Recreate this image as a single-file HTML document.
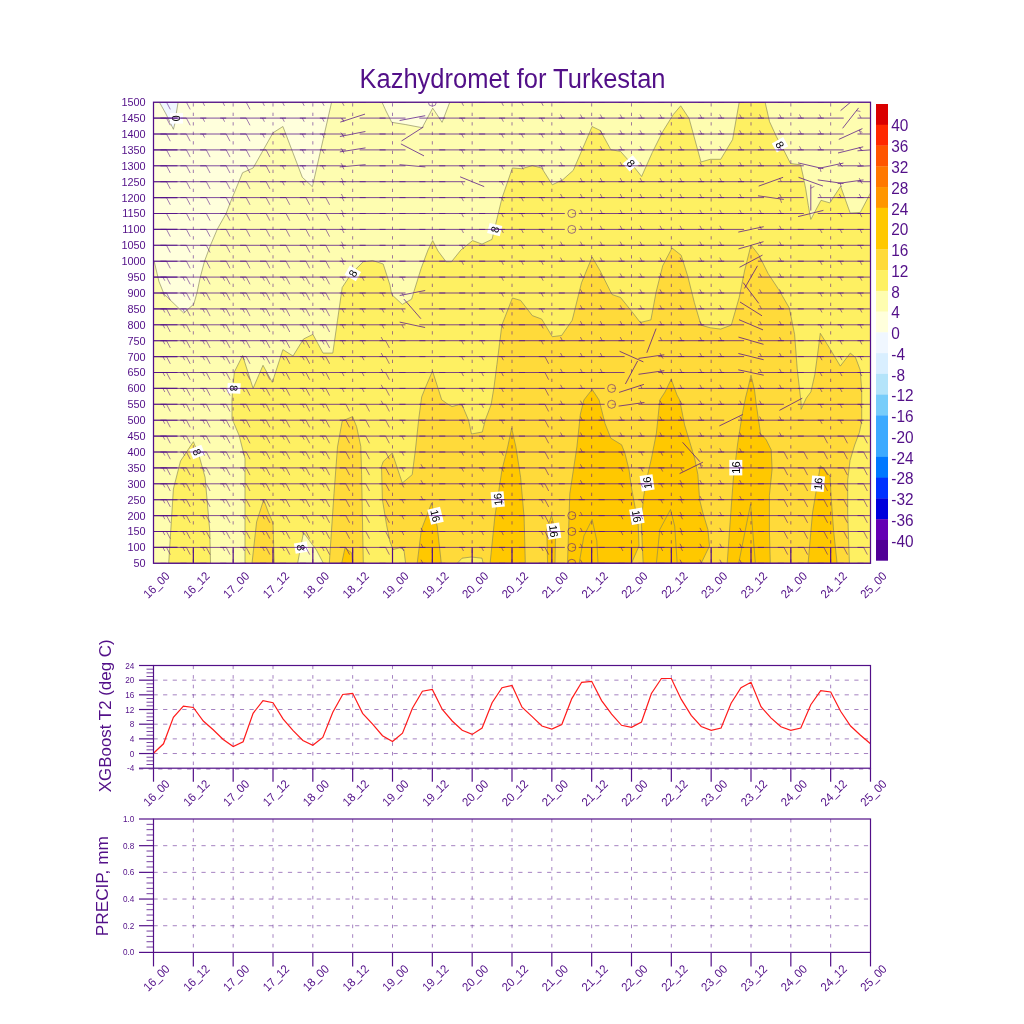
<!DOCTYPE html><html><head><meta charset="utf-8"><title>Kazhydromet for Turkestan</title>
<style>html,body{margin:0;padding:0;background:#fff;}svg{display:block;will-change:transform;}text{font-family:'Liberation Sans', Arial, Helvetica, sans-serif;fill:#520f88;}</style></head><body>
<svg width="1024" height="1024" viewBox="0 0 1024 1024">
<rect width="1024" height="1024" fill="#fff"/>
<text transform="translate(512.50,87.60) scale(1.0,1.06)" font-size="25.5" text-anchor="middle">Kazhydromet for Turkestan</text>
<defs><clipPath id="mc"><rect x="153.5" y="102.2" width="717.0" height="461.09999999999997"/></clipPath></defs>
<g clip-path="url(#mc)">
<rect x="153.5" y="102.2" width="717.0" height="461.09999999999997" fill="#fefdb0"/>
<polygon points="153.5,102.2 331.6,102.2 312.4,186.7 302.3,177.3 282.9,126.5 273.0,132.8 253.1,168.0 242.6,172.7 231.3,200.0 226.2,213.3 217.3,229.2 210.3,245.7 204.6,261.0 200.2,277.5 197.0,292.7 193.8,304.1 183.7,313.0 164.0,294.0 158.9,281.3 154.4,262.2 153.5,262.0" fill="#ffffdc"/>
<polygon points="382.0,102.2 386.0,111.0 391.7,122.3 405.8,124.6 422.2,127.7 432.7,108.2 442.1,122.3 449.8,102.2" fill="#ffffdc"/>
<polygon points="159.4,102.2 178.1,102.2 176.5,112.0 175.5,121.0 173.4,129.3 166.0,114.0" fill="#f0f7ff"/>
<polygon points="245.0,563.3 245.0,458.6 239.0,435.2 232.0,418.7 232.0,400.0 233.0,385.0 234.4,371.9 242.6,355.5 253.1,388.3 263.0,365.3 272.3,382.4 282.9,349.6 293.0,356.0 303.5,339.0 312.9,334.4 323.0,353.1 332.8,353.1 337.5,320.3 342.2,287.5 351.5,273.4 363.3,261.7 372.6,260.5 383.2,264.0 390.0,285.2 391.7,294.5 402.3,304.4 411.6,299.2 421.0,268.7 428.0,250.0 432.7,240.6 438.0,251.0 446.0,261.7 451.5,261.7 460.9,250.0 472.6,240.6 482.0,244.1 492.0,239.4 501.9,198.4 512.4,168.0 521.8,168.7 532.3,165.6 541.7,168.0 552.3,184.8 562.8,179.7 573.3,170.3 592.1,126.5 600.3,130.5 610.8,149.7 620.5,151.4 631.1,163.3 641.6,176.5 652.2,152.7 662.7,131.6 673.3,114.5 680.7,105.8 689.1,118.5 701.0,162.0 710.2,159.3 720.7,159.3 732.6,139.5 739.2,102.2 765.1,102.2 769.5,121.6 776.5,136.8 784.1,150.8 790.5,163.5 800.6,164.8 803.2,176.2 805.7,188.9 808.3,205.4 810.8,219.4 821.0,200.3 829.8,202.9 840.6,186.3 850.2,213.0 860.3,212.4 870.5,193.0 870.5,563.3" fill="#fef062"/>
<polygon points="168.7,563.3 173.4,489.0 180.5,461.0 193.4,441.7 199.2,456.2 205.1,477.3 209.8,531.2 210.5,563.3" fill="#fef062"/>
<polygon points="297.6,563.3 303.5,532.4 309.4,540.6 316.4,550.0 323.4,563.3" fill="#fefdb0"/>
<polygon points="252.0,563.3 256.6,521.9 263.7,499.6 268.4,512.5 273.0,523.0 274.2,563.3" fill="#ffda3a"/>
<polygon points="329.3,563.3 334.0,493.7 337.5,446.9 342.2,421.1 352.5,416.6 356.6,426.6 360.8,446.5 361.6,474.7 362.4,516.3 363.3,563.3" fill="#ffda3a"/>
<polygon points="405.6,563.3 403.9,549.5 399.8,547.8 393.1,549.5 389.8,541.2 386.5,524.6 382.4,499.6 381.5,466.4 383.2,461.5 392.3,453.1 402.3,483.0 412.2,474.7 415.4,450.0 418.8,418.4 421.7,396.9 425.6,387.1 432.5,371.0 438.3,389.1 441.7,399.8 447.1,403.7 452.0,406.6 458.8,404.7 462.2,405.2 468.6,420.3 471.5,434.0 482.3,432.0 485.2,420.3 491.1,404.7 494.0,387.1 496.9,364.6 501.9,325.0 512.4,298.0 520.6,300.4 532.3,315.6 541.7,319.1 552.3,336.7 561.6,335.5 572.2,320.3 581.5,282.8 592.1,257.0 600.3,271.1 612.0,294.5 620.5,297.5 631.1,310.6 640.3,322.5 650.9,319.9 656.1,292.2 662.7,265.8 672.0,248.0 681.2,255.3 687.8,276.4 694.4,302.7 701.0,325.1 710.2,327.8 720.7,329.1 731.3,325.1 739.2,297.5 744.5,271.1 751.0,245.0 759.0,255.3 768.2,273.7 778.7,289.5 789.3,308.0 794.6,334.4 797.2,368.6 801.1,402.9 801.1,409.3 806.3,398.1 810.9,391.9 814.8,374.7 818.0,351.3 820.3,333.3 830.5,349.7 840.3,366.1 850.3,353.1 855.5,357.5 860.2,370.0 861.7,390.3 861.7,421.6 859.4,432.5 854.7,445.0 850.0,460.6 847.7,480.0 847.7,513.0 849.4,563.3" fill="#ffda3a"/>
<polygon points="457.3,563.3 462.0,558.2 471.4,557.0 482.0,558.2 483.1,563.3" fill="#fef062"/>
<polygon points="341.7,563.3 345.0,547.8 351.6,552.8 352.5,563.3" fill="#ffc800"/>
<polygon points="417.2,563.3 421.4,529.5 431.6,503.1 437.2,526.2 441.3,563.3" fill="#ffc800"/>
<polygon points="490.1,563.3 494.8,517.2 501.9,470.3 507.7,446.9 511.7,428.1 515.9,446.9 520.6,477.3 524.1,517.2 525.3,563.3" fill="#ffc800"/>
<polygon points="547.6,563.3 546.8,530.0 551.5,515.5 555.6,531.6 555.0,563.3" fill="#ffc800"/>
<polygon points="567.5,563.3 569.8,493.7 576.9,446.9 580.4,414.0 583.9,400.0 592.1,389.4 599.1,400.0 605.0,423.4 610.8,438.2 621.6,444.8 624.9,453.1 629.0,469.7 631.5,488.0 634.9,506.2 638.2,524.5 639.0,546.0 631.5,563.3" fill="#ffc800"/>
<polygon points="643.2,563.3 642.3,546.0 641.5,524.5 643.2,499.6 646.5,479.7 651.5,458.1 656.4,433.2 659.8,400.0 665.0,392.0 671.2,379.2 677.0,395.0 679.7,400.0 684.6,424.9 689.6,441.5 694.6,458.1 697.9,474.7 699.6,499.6 702.9,512.9 707.9,529.5 709.5,546.0 701.2,563.3" fill="#ffc800"/>
<polygon points="727.2,563.3 730.8,513.0 733.4,477.9 737.8,442.7 742.2,414.6 745.7,397.0 747.5,390.0 751.0,375.2 754.5,390.0 756.2,404.1 760.6,434.0 765.9,439.2 771.2,449.8 772.1,469.1 769.4,495.5 769.4,530.6 770.3,563.3" fill="#ffc800"/>
<polygon points="808.1,563.3 812.5,513.0 816.0,492.0 820.4,465.6 830.1,476.1 831.0,495.5 833.6,530.6 837.1,563.3" fill="#ffc800"/>
<polygon points="153.5,102.2 331.6,102.2 312.4,186.7 302.3,177.3 282.9,126.5 273.0,132.8 253.1,168.0 242.6,172.7 231.3,200.0 226.2,213.3 217.3,229.2 210.3,245.7 204.6,261.0 200.2,277.5 197.0,292.7 193.8,304.1 183.7,313.0 164.0,294.0 158.9,281.3 154.4,262.2 153.5,262.0" fill="none" stroke="#85855a" stroke-width="0.7" stroke-opacity="0.9"/>
<polygon points="382.0,102.2 386.0,111.0 391.7,122.3 405.8,124.6 422.2,127.7 432.7,108.2 442.1,122.3 449.8,102.2" fill="none" stroke="#85855a" stroke-width="0.7" stroke-opacity="0.9"/>
<polygon points="159.4,102.2 178.1,102.2 176.5,112.0 175.5,121.0 173.4,129.3 166.0,114.0" fill="none" stroke="#85855a" stroke-width="0.7" stroke-opacity="0.9"/>
<polygon points="245.0,563.3 245.0,458.6 239.0,435.2 232.0,418.7 232.0,400.0 233.0,385.0 234.4,371.9 242.6,355.5 253.1,388.3 263.0,365.3 272.3,382.4 282.9,349.6 293.0,356.0 303.5,339.0 312.9,334.4 323.0,353.1 332.8,353.1 337.5,320.3 342.2,287.5 351.5,273.4 363.3,261.7 372.6,260.5 383.2,264.0 390.0,285.2 391.7,294.5 402.3,304.4 411.6,299.2 421.0,268.7 428.0,250.0 432.7,240.6 438.0,251.0 446.0,261.7 451.5,261.7 460.9,250.0 472.6,240.6 482.0,244.1 492.0,239.4 501.9,198.4 512.4,168.0 521.8,168.7 532.3,165.6 541.7,168.0 552.3,184.8 562.8,179.7 573.3,170.3 592.1,126.5 600.3,130.5 610.8,149.7 620.5,151.4 631.1,163.3 641.6,176.5 652.2,152.7 662.7,131.6 673.3,114.5 680.7,105.8 689.1,118.5 701.0,162.0 710.2,159.3 720.7,159.3 732.6,139.5 739.2,102.2 765.1,102.2 769.5,121.6 776.5,136.8 784.1,150.8 790.5,163.5 800.6,164.8 803.2,176.2 805.7,188.9 808.3,205.4 810.8,219.4 821.0,200.3 829.8,202.9 840.6,186.3 850.2,213.0 860.3,212.4 870.5,193.0 870.5,563.3" fill="none" stroke="#85855a" stroke-width="0.7" stroke-opacity="0.9"/>
<polygon points="168.7,563.3 173.4,489.0 180.5,461.0 193.4,441.7 199.2,456.2 205.1,477.3 209.8,531.2 210.5,563.3" fill="none" stroke="#85855a" stroke-width="0.7" stroke-opacity="0.9"/>
<polygon points="297.6,563.3 303.5,532.4 309.4,540.6 316.4,550.0 323.4,563.3" fill="none" stroke="#85855a" stroke-width="0.7" stroke-opacity="0.9"/>
<polygon points="252.0,563.3 256.6,521.9 263.7,499.6 268.4,512.5 273.0,523.0 274.2,563.3" fill="none" stroke="#85855a" stroke-width="0.7" stroke-opacity="0.9"/>
<polygon points="329.3,563.3 334.0,493.7 337.5,446.9 342.2,421.1 352.5,416.6 356.6,426.6 360.8,446.5 361.6,474.7 362.4,516.3 363.3,563.3" fill="none" stroke="#85855a" stroke-width="0.7" stroke-opacity="0.9"/>
<polygon points="405.6,563.3 403.9,549.5 399.8,547.8 393.1,549.5 389.8,541.2 386.5,524.6 382.4,499.6 381.5,466.4 383.2,461.5 392.3,453.1 402.3,483.0 412.2,474.7 415.4,450.0 418.8,418.4 421.7,396.9 425.6,387.1 432.5,371.0 438.3,389.1 441.7,399.8 447.1,403.7 452.0,406.6 458.8,404.7 462.2,405.2 468.6,420.3 471.5,434.0 482.3,432.0 485.2,420.3 491.1,404.7 494.0,387.1 496.9,364.6 501.9,325.0 512.4,298.0 520.6,300.4 532.3,315.6 541.7,319.1 552.3,336.7 561.6,335.5 572.2,320.3 581.5,282.8 592.1,257.0 600.3,271.1 612.0,294.5 620.5,297.5 631.1,310.6 640.3,322.5 650.9,319.9 656.1,292.2 662.7,265.8 672.0,248.0 681.2,255.3 687.8,276.4 694.4,302.7 701.0,325.1 710.2,327.8 720.7,329.1 731.3,325.1 739.2,297.5 744.5,271.1 751.0,245.0 759.0,255.3 768.2,273.7 778.7,289.5 789.3,308.0 794.6,334.4 797.2,368.6 801.1,402.9 801.1,409.3 806.3,398.1 810.9,391.9 814.8,374.7 818.0,351.3 820.3,333.3 830.5,349.7 840.3,366.1 850.3,353.1 855.5,357.5 860.2,370.0 861.7,390.3 861.7,421.6 859.4,432.5 854.7,445.0 850.0,460.6 847.7,480.0 847.7,513.0 849.4,563.3" fill="none" stroke="#85855a" stroke-width="0.7" stroke-opacity="0.9"/>
<polygon points="457.3,563.3 462.0,558.2 471.4,557.0 482.0,558.2 483.1,563.3" fill="none" stroke="#85855a" stroke-width="0.7" stroke-opacity="0.9"/>
<polygon points="341.7,563.3 345.0,547.8 351.6,552.8 352.5,563.3" fill="none" stroke="#85855a" stroke-width="0.7" stroke-opacity="0.9"/>
<polygon points="417.2,563.3 421.4,529.5 431.6,503.1 437.2,526.2 441.3,563.3" fill="none" stroke="#85855a" stroke-width="0.7" stroke-opacity="0.9"/>
<polygon points="490.1,563.3 494.8,517.2 501.9,470.3 507.7,446.9 511.7,428.1 515.9,446.9 520.6,477.3 524.1,517.2 525.3,563.3" fill="none" stroke="#85855a" stroke-width="0.7" stroke-opacity="0.9"/>
<polygon points="547.6,563.3 546.8,530.0 551.5,515.5 555.6,531.6 555.0,563.3" fill="none" stroke="#85855a" stroke-width="0.7" stroke-opacity="0.9"/>
<polygon points="567.5,563.3 569.8,493.7 576.9,446.9 580.4,414.0 583.9,400.0 592.1,389.4 599.1,400.0 605.0,423.4 610.8,438.2 621.6,444.8 624.9,453.1 629.0,469.7 631.5,488.0 634.9,506.2 638.2,524.5 639.0,546.0 631.5,563.3" fill="none" stroke="#85855a" stroke-width="0.7" stroke-opacity="0.9"/>
<polygon points="643.2,563.3 642.3,546.0 641.5,524.5 643.2,499.6 646.5,479.7 651.5,458.1 656.4,433.2 659.8,400.0 665.0,392.0 671.2,379.2 677.0,395.0 679.7,400.0 684.6,424.9 689.6,441.5 694.6,458.1 697.9,474.7 699.6,499.6 702.9,512.9 707.9,529.5 709.5,546.0 701.2,563.3" fill="none" stroke="#85855a" stroke-width="0.7" stroke-opacity="0.9"/>
<polygon points="727.2,563.3 730.8,513.0 733.4,477.9 737.8,442.7 742.2,414.6 745.7,397.0 747.5,390.0 751.0,375.2 754.5,390.0 756.2,404.1 760.6,434.0 765.9,439.2 771.2,449.8 772.1,469.1 769.4,495.5 769.4,530.6 770.3,563.3" fill="none" stroke="#85855a" stroke-width="0.7" stroke-opacity="0.9"/>
<polygon points="808.1,563.3 812.5,513.0 816.0,492.0 820.4,465.6 830.1,476.1 831.0,495.5 833.6,530.6 837.1,563.3" fill="none" stroke="#85855a" stroke-width="0.7" stroke-opacity="0.9"/>
<polygon points="579.2,563.3 583.9,536.0 592.1,519.5 596.8,540.6 598.0,563.3" fill="none" stroke="#85855a" stroke-width="0.7" stroke-opacity="0.9"/>
<polygon points="656.4,563.3 659.8,529.5 670.5,509.5 674.7,526.1 677.2,563.3" fill="none" stroke="#85855a" stroke-width="0.7" stroke-opacity="0.9"/>
<polygon points="738.7,563.3 746.6,523.6 750.6,504.3 752.7,530.6 755.4,563.3" fill="none" stroke="#85855a" stroke-width="0.7" stroke-opacity="0.9"/>
<line x1="193.33" y1="102.2" x2="193.33" y2="563.3" stroke="#520f88" stroke-width="0.85" stroke-dasharray="3.3,6.2" stroke-dashoffset="-1" stroke-opacity="0.65"/>
<line x1="233.17" y1="102.2" x2="233.17" y2="563.3" stroke="#520f88" stroke-width="0.85" stroke-dasharray="3.3,6.2" stroke-dashoffset="-1" stroke-opacity="0.65"/>
<line x1="273.00" y1="102.2" x2="273.00" y2="563.3" stroke="#520f88" stroke-width="0.85" stroke-dasharray="3.3,6.2" stroke-dashoffset="-1" stroke-opacity="0.65"/>
<line x1="312.83" y1="102.2" x2="312.83" y2="563.3" stroke="#520f88" stroke-width="0.85" stroke-dasharray="3.3,6.2" stroke-dashoffset="-1" stroke-opacity="0.65"/>
<line x1="352.67" y1="102.2" x2="352.67" y2="563.3" stroke="#520f88" stroke-width="0.85" stroke-dasharray="3.3,6.2" stroke-dashoffset="-1" stroke-opacity="0.65"/>
<line x1="392.50" y1="102.2" x2="392.50" y2="563.3" stroke="#520f88" stroke-width="0.85" stroke-dasharray="3.3,6.2" stroke-dashoffset="-1" stroke-opacity="0.65"/>
<line x1="432.33" y1="102.2" x2="432.33" y2="563.3" stroke="#520f88" stroke-width="0.85" stroke-dasharray="3.3,6.2" stroke-dashoffset="-1" stroke-opacity="0.65"/>
<line x1="472.17" y1="102.2" x2="472.17" y2="563.3" stroke="#520f88" stroke-width="0.85" stroke-dasharray="3.3,6.2" stroke-dashoffset="-1" stroke-opacity="0.65"/>
<line x1="512.00" y1="102.2" x2="512.00" y2="563.3" stroke="#520f88" stroke-width="0.85" stroke-dasharray="3.3,6.2" stroke-dashoffset="-1" stroke-opacity="0.65"/>
<line x1="551.83" y1="102.2" x2="551.83" y2="563.3" stroke="#520f88" stroke-width="0.85" stroke-dasharray="3.3,6.2" stroke-dashoffset="-1" stroke-opacity="0.65"/>
<line x1="591.67" y1="102.2" x2="591.67" y2="563.3" stroke="#520f88" stroke-width="0.85" stroke-dasharray="3.3,6.2" stroke-dashoffset="-1" stroke-opacity="0.65"/>
<line x1="631.50" y1="102.2" x2="631.50" y2="563.3" stroke="#520f88" stroke-width="0.85" stroke-dasharray="3.3,6.2" stroke-dashoffset="-1" stroke-opacity="0.65"/>
<line x1="671.33" y1="102.2" x2="671.33" y2="563.3" stroke="#520f88" stroke-width="0.85" stroke-dasharray="3.3,6.2" stroke-dashoffset="-1" stroke-opacity="0.65"/>
<line x1="711.17" y1="102.2" x2="711.17" y2="563.3" stroke="#520f88" stroke-width="0.85" stroke-dasharray="3.3,6.2" stroke-dashoffset="-1" stroke-opacity="0.65"/>
<line x1="751.00" y1="102.2" x2="751.00" y2="563.3" stroke="#520f88" stroke-width="0.85" stroke-dasharray="3.3,6.2" stroke-dashoffset="-1" stroke-opacity="0.65"/>
<line x1="790.83" y1="102.2" x2="790.83" y2="563.3" stroke="#520f88" stroke-width="0.85" stroke-dasharray="3.3,6.2" stroke-dashoffset="-1" stroke-opacity="0.65"/>
<line x1="830.67" y1="102.2" x2="830.67" y2="563.3" stroke="#520f88" stroke-width="0.85" stroke-dasharray="3.3,6.2" stroke-dashoffset="-1" stroke-opacity="0.65"/>
<g transform="translate(176.5,118.3) rotate(90)"><rect x="-5.2" y="-6.5" width="10.5" height="13" fill="#fff"/><text x="0" y="4.1" font-size="11" text-anchor="middle" style="fill:#000">0</text></g>
<g transform="translate(234.0,388.3) rotate(92)"><rect x="-5.2" y="-6.5" width="10.5" height="13" fill="#fff"/><text x="0" y="4.1" font-size="11" text-anchor="middle" style="fill:#000">8</text></g>
<g transform="translate(197.2,452) rotate(68)"><rect x="-5.2" y="-6.5" width="10.5" height="13" fill="#fff"/><text x="0" y="4.1" font-size="11" text-anchor="middle" style="fill:#000">8</text></g>
<g transform="translate(301.2,547.5) rotate(80)"><rect x="-5.2" y="-6.5" width="10.5" height="13" fill="#fff"/><text x="0" y="4.1" font-size="11" text-anchor="middle" style="fill:#000">8</text></g>
<g transform="translate(352.8,273.4) rotate(-60)"><rect x="-5.2" y="-6.5" width="10.5" height="13" fill="#fff"/><text x="0" y="4.1" font-size="11" text-anchor="middle" style="fill:#000">8</text></g>
<g transform="translate(494.7,229.6) rotate(-76)"><rect x="-5.2" y="-6.5" width="10.5" height="13" fill="#fff"/><text x="0" y="4.1" font-size="11" text-anchor="middle" style="fill:#000">8</text></g>
<g transform="translate(631.1,163.3) rotate(50)"><rect x="-5.2" y="-6.5" width="10.5" height="13" fill="#fff"/><text x="0" y="4.1" font-size="11" text-anchor="middle" style="fill:#000">8</text></g>
<g transform="translate(780,144.8) rotate(61)"><rect x="-5.2" y="-6.5" width="10.5" height="13" fill="#fff"/><text x="0" y="4.1" font-size="11" text-anchor="middle" style="fill:#000">8</text></g>
<g transform="translate(435.6,515.8) rotate(76)"><rect x="-7.8" y="-6.5" width="15.5" height="13" fill="#fff"/><text x="0" y="4.1" font-size="11" text-anchor="middle" style="fill:#000">16</text></g>
<g transform="translate(497.7,499.4) rotate(-95)"><rect x="-7.8" y="-6.5" width="15.5" height="13" fill="#fff"/><text x="0" y="4.1" font-size="11" text-anchor="middle" style="fill:#000">16</text></g>
<g transform="translate(553.8,531.1) rotate(82)"><rect x="-7.8" y="-6.5" width="15.5" height="13" fill="#fff"/><text x="0" y="4.1" font-size="11" text-anchor="middle" style="fill:#000">16</text></g>
<g transform="translate(636.9,516.2) rotate(80)"><rect x="-7.8" y="-6.5" width="15.5" height="13" fill="#fff"/><text x="0" y="4.1" font-size="11" text-anchor="middle" style="fill:#000">16</text></g>
<g transform="translate(647.1,482.8) rotate(-98)"><rect x="-7.8" y="-6.5" width="15.5" height="13" fill="#fff"/><text x="0" y="4.1" font-size="11" text-anchor="middle" style="fill:#000">16</text></g>
<g transform="translate(735.8,467.6) rotate(-90)"><rect x="-7.8" y="-6.5" width="15.5" height="13" fill="#fff"/><text x="0" y="4.1" font-size="11" text-anchor="middle" style="fill:#000">16</text></g>
<g transform="translate(817.9,483.7) rotate(-85)"><rect x="-7.8" y="-6.5" width="15.5" height="13" fill="#fff"/><text x="0" y="4.1" font-size="11" text-anchor="middle" style="fill:#000">16</text></g>
<line x1="153.5" y1="118.10" x2="177.5" y2="118.10" stroke="#520f88" stroke-width="1.1" stroke-opacity="0.85"/>
<line x1="153.5" y1="134.00" x2="177.5" y2="134.00" stroke="#520f88" stroke-width="1.1" stroke-opacity="0.85"/>
<line x1="153.5" y1="149.90" x2="177.5" y2="149.90" stroke="#520f88" stroke-width="1.1" stroke-opacity="0.85"/>
<line x1="153.5" y1="165.80" x2="177.5" y2="165.80" stroke="#520f88" stroke-width="1.1" stroke-opacity="0.85"/>
<line x1="153.5" y1="181.70" x2="177.5" y2="181.70" stroke="#520f88" stroke-width="1.1" stroke-opacity="0.85"/>
<line x1="153.5" y1="197.60" x2="177.5" y2="197.60" stroke="#520f88" stroke-width="1.1" stroke-opacity="0.85"/>
<line x1="153.5" y1="213.50" x2="177.5" y2="213.50" stroke="#520f88" stroke-width="1.1" stroke-opacity="0.85"/>
<line x1="153.5" y1="229.40" x2="177.5" y2="229.40" stroke="#520f88" stroke-width="1.1" stroke-opacity="0.85"/>
<line x1="153.5" y1="245.30" x2="177.5" y2="245.30" stroke="#520f88" stroke-width="1.1" stroke-opacity="0.85"/>
<line x1="153.5" y1="261.20" x2="177.5" y2="261.20" stroke="#520f88" stroke-width="1.1" stroke-opacity="0.85"/>
<line x1="153.5" y1="277.10" x2="177.5" y2="277.10" stroke="#520f88" stroke-width="1.1" stroke-opacity="0.85"/>
<line x1="153.5" y1="293.00" x2="177.5" y2="293.00" stroke="#520f88" stroke-width="1.1" stroke-opacity="0.85"/>
<line x1="153.5" y1="308.90" x2="177.5" y2="308.90" stroke="#520f88" stroke-width="1.1" stroke-opacity="0.85"/>
<line x1="153.5" y1="324.80" x2="177.5" y2="324.80" stroke="#520f88" stroke-width="1.1" stroke-opacity="0.85"/>
<line x1="153.5" y1="340.70" x2="177.5" y2="340.70" stroke="#520f88" stroke-width="1.1" stroke-opacity="0.85"/>
<line x1="153.5" y1="356.60" x2="177.5" y2="356.60" stroke="#520f88" stroke-width="1.1" stroke-opacity="0.85"/>
<line x1="153.5" y1="372.50" x2="177.5" y2="372.50" stroke="#520f88" stroke-width="1.1" stroke-opacity="0.85"/>
<line x1="153.5" y1="388.40" x2="177.5" y2="388.40" stroke="#520f88" stroke-width="1.1" stroke-opacity="0.85"/>
<line x1="153.5" y1="404.30" x2="177.5" y2="404.30" stroke="#520f88" stroke-width="1.1" stroke-opacity="0.85"/>
<line x1="153.5" y1="420.20" x2="177.5" y2="420.20" stroke="#520f88" stroke-width="1.1" stroke-opacity="0.85"/>
<line x1="153.5" y1="436.10" x2="177.5" y2="436.10" stroke="#520f88" stroke-width="1.1" stroke-opacity="0.85"/>
<line x1="153.5" y1="452.00" x2="177.5" y2="452.00" stroke="#520f88" stroke-width="1.1" stroke-opacity="0.85"/>
<line x1="153.5" y1="467.90" x2="177.5" y2="467.90" stroke="#520f88" stroke-width="1.1" stroke-opacity="0.85"/>
<line x1="153.5" y1="483.80" x2="177.5" y2="483.80" stroke="#520f88" stroke-width="1.1" stroke-opacity="0.85"/>
<line x1="153.5" y1="499.70" x2="177.5" y2="499.70" stroke="#520f88" stroke-width="1.1" stroke-opacity="0.85"/>
<line x1="153.5" y1="515.60" x2="177.5" y2="515.60" stroke="#520f88" stroke-width="1.1" stroke-opacity="0.85"/>
<line x1="153.5" y1="531.50" x2="177.5" y2="531.50" stroke="#520f88" stroke-width="1.1" stroke-opacity="0.85"/>
<line x1="153.5" y1="547.40" x2="177.5" y2="547.40" stroke="#520f88" stroke-width="1.1" stroke-opacity="0.85"/>
<path d="M140.5,102.2L166.5,102.2M180.3,102.2L206.3,102.2M220.2,102.2L246.2,102.2M260.0,102.2L286.0,102.2M299.8,102.2L325.8,102.2M365.7,102.2L339.7,102.2M405.5,102.2L379.5,102.2M459.2,102.2L485.2,102.2M499.0,102.2L525.0,102.2M538.8,102.2L564.8,102.2M604.7,102.2L578.7,102.2M644.5,102.2L618.5,102.2M684.3,102.2L658.3,102.2M724.2,102.2L698.2,102.2M764.0,102.2L738.0,102.2M803.8,102.2L777.8,102.2M843.7,102.2L817.7,102.2M883.5,102.2L857.5,102.2M140.5,118.1L166.5,118.1M180.3,118.1L206.3,118.1M220.2,118.1L246.2,118.1M260.0,118.1L286.0,118.1M299.8,118.1L325.8,118.1M365.0,114.1L340.3,122.1M405.5,118.1L379.5,118.1M445.3,118.1L419.3,118.1M459.2,118.1L485.2,118.1M499.0,118.1L525.0,118.1M538.8,118.1L564.8,118.1M604.7,118.1L578.7,118.1M644.5,118.1L618.5,118.1M684.3,118.1L658.3,118.1M724.2,118.1L698.2,118.1M764.0,118.1L738.0,118.1M803.8,118.1L777.8,118.1M843.7,118.1L817.7,118.1M883.5,118.1L857.5,118.1M140.5,134.0L166.5,134.0M180.3,134.0L206.3,134.0M220.2,134.0L246.2,134.0M260.0,134.0L286.0,134.0M299.8,134.0L325.8,134.0M365.4,131.5L339.9,136.5M405.5,134.0L379.5,134.0M445.3,134.0L419.3,134.0M459.2,134.0L485.2,134.0M499.0,134.0L525.0,134.0M538.8,134.0L564.8,134.0M604.7,134.0L578.7,134.0M644.5,134.0L618.5,134.0M684.3,134.0L658.3,134.0M724.2,134.0L698.2,134.0M764.0,134.0L738.0,134.0M803.8,134.0L777.8,134.0M843.7,134.0L817.7,134.0M883.5,134.0L857.5,134.0M140.5,149.9L166.5,149.9M180.3,149.9L206.3,149.9M220.2,149.9L246.2,149.9M260.0,149.9L286.0,149.9M299.8,149.9L325.8,149.9M365.5,147.9L339.8,151.9M405.5,149.9L379.5,149.9M445.3,149.9L419.3,149.9M459.2,149.9L485.2,149.9M499.0,149.9L525.0,149.9M538.8,149.9L564.8,149.9M604.7,149.9L578.7,149.9M644.5,149.9L618.5,149.9M684.3,149.9L658.3,149.9M724.2,149.9L698.2,149.9M764.0,149.9L738.0,149.9M803.8,149.9L777.8,149.9M843.7,149.9L817.7,149.9M883.5,149.0L857.5,150.8M140.5,165.8L166.5,165.8M180.3,165.8L206.3,165.8M220.2,165.8L246.2,165.8M260.0,165.8L286.0,165.8M299.8,165.8L325.8,165.8M365.6,164.7L339.7,166.9M405.5,165.8L379.5,165.8M445.3,165.8L419.3,165.8M459.2,165.8L485.2,165.8M499.0,165.8L525.0,165.8M538.8,165.8L564.8,165.8M604.7,165.8L578.7,165.8M644.5,165.8L618.5,165.8M684.3,165.8L658.3,165.8M724.2,165.8L698.2,165.8M764.0,165.8L738.0,165.8M803.8,165.8L777.8,165.8M818.0,168.5L843.4,163.1M883.5,165.3L857.5,166.3M140.5,181.7L166.5,181.7M180.3,181.7L206.3,181.7M220.2,181.7L246.2,181.7M260.0,181.7L286.0,181.7M299.8,181.7L325.8,181.7M365.7,181.7L339.7,181.7M405.5,181.7L379.5,181.7M445.3,181.7L419.3,181.7M460.1,176.8L484.2,186.6M499.0,181.7L525.0,181.7M538.8,181.7L564.8,181.7M604.7,181.7L578.7,181.7M644.5,181.7L618.5,181.7M684.3,181.7L658.3,181.7M724.2,181.7L698.2,181.7M764.0,181.7L738.0,181.7M803.8,181.7L777.8,181.7M817.8,179.9L843.5,183.5M883.5,181.7L857.5,181.7M140.5,197.6L166.5,197.6M180.3,197.6L206.3,197.6M220.2,197.6L246.2,197.6M260.0,197.6L286.0,197.6M299.8,197.6L325.8,197.6M365.7,197.6L339.7,197.6M405.5,197.6L379.5,197.6M445.3,197.6L419.3,197.6M459.2,197.6L485.2,197.6M499.0,197.6L525.0,197.6M538.8,197.6L564.8,197.6M604.7,197.6L578.7,197.6M644.5,197.6L618.5,197.6M684.3,197.6L658.3,197.6M724.2,197.6L698.2,197.6M764.0,197.6L738.0,197.6M803.8,197.6L777.8,197.6M843.7,197.6L817.7,197.6M883.5,197.6L857.5,197.6M140.5,213.5L166.5,213.5M180.3,213.5L206.3,213.5M220.2,213.5L246.2,213.5M260.0,213.5L286.0,213.5M299.8,213.5L325.8,213.5M365.7,213.5L339.7,213.5M405.5,213.5L379.5,213.5M445.3,213.5L419.3,213.5M459.2,213.5L485.2,213.5M499.0,213.5L525.0,213.5M538.8,213.5L564.8,213.5M604.7,213.5L578.7,213.5M644.5,213.5L618.5,213.5M684.3,213.5L658.3,213.5M724.2,213.5L698.2,213.5M764.0,213.5L738.0,213.5M803.8,213.5L777.8,213.5M817.7,213.5L843.7,213.5M857.5,213.5L883.5,213.5M140.5,229.4L166.5,229.4M180.3,229.4L206.3,229.4M220.2,229.4L246.2,229.4M260.0,229.4L286.0,229.4M299.8,229.4L325.8,229.4M365.7,229.4L339.7,229.4M405.5,229.4L379.5,229.4M445.3,229.4L419.3,229.4M459.2,229.4L485.2,229.4M499.0,229.4L525.0,229.4M538.8,229.4L564.8,229.4M604.7,229.4L578.7,229.4M644.5,229.4L618.5,229.4M684.3,229.4L658.3,229.4M724.2,229.4L698.2,229.4M738.3,232.1L763.7,226.7M803.8,229.4L777.8,229.4M817.7,229.4L843.7,229.4M857.5,229.4L883.5,229.4M140.5,245.3L166.5,245.3M180.3,245.3L206.3,245.3M220.2,245.3L246.2,245.3M260.0,245.3L286.0,245.3M299.8,245.3L325.8,245.3M365.7,245.3L339.7,245.3M405.5,245.3L379.5,245.3M445.3,245.3L419.3,245.3M459.2,245.3L485.2,245.3M499.0,245.3L525.0,245.3M538.8,245.3L564.8,245.3M604.7,245.3L578.7,245.3M644.5,245.3L618.5,245.3M684.3,245.3L658.3,245.3M724.2,245.3L698.2,245.3M738.5,248.9L763.5,241.7M803.8,245.3L777.8,245.3M817.7,245.3L843.7,245.3M857.5,245.3L883.5,245.3M140.5,261.2L166.5,261.2M180.3,261.2L206.3,261.2M220.2,261.2L246.2,261.2M260.0,261.2L286.0,261.2M299.8,261.2L325.8,261.2M365.7,261.2L339.7,261.2M405.5,261.2L379.5,261.2M445.3,261.2L419.3,261.2M459.2,261.2L485.2,261.2M499.0,261.2L525.0,261.2M538.8,261.2L564.8,261.2M604.7,261.2L578.7,261.2M644.5,261.2L618.5,261.2M684.3,261.2L658.3,261.2M724.2,261.2L698.2,261.2M739.5,267.3L762.5,255.1M803.8,261.2L777.8,261.2M817.7,261.2L843.7,261.2M857.5,261.2L883.5,261.2M140.5,277.1L166.5,277.1M180.3,277.1L206.3,277.1M220.2,277.1L246.2,277.1M260.0,277.1L286.0,277.1M299.8,277.1L325.8,277.1M339.7,277.1L365.7,277.1M379.5,277.1L405.5,277.1M419.3,277.1L445.3,277.1M459.2,277.1L485.2,277.1M499.0,277.1L525.0,277.1M538.8,277.1L564.8,277.1M604.7,277.1L578.7,277.1M644.5,277.1L618.5,277.1M684.3,277.1L658.3,277.1M724.2,277.1L698.2,277.1M744.5,288.4L757.5,265.8M803.8,277.1L777.8,277.1M817.7,277.1L843.7,277.1M857.5,277.1L883.5,277.1M140.5,293.0L166.5,293.0M180.3,293.0L206.3,293.0M220.2,293.0L246.2,293.0M260.0,293.0L286.0,293.0M299.8,293.0L325.8,293.0M339.7,293.0L365.7,293.0M379.5,293.0L405.5,293.0M419.3,293.0L445.3,293.0M459.2,293.0L485.2,293.0M499.0,293.0L525.0,293.0M538.8,293.0L564.8,293.0M604.7,293.0L578.7,293.0M644.5,293.0L618.5,293.0M684.3,293.0L658.3,293.0M724.2,293.0L698.2,293.0M743.2,282.6L758.8,303.4M803.8,293.0L777.8,293.0M817.7,293.0L843.7,293.0M857.5,293.0L883.5,293.0M140.5,308.9L166.5,308.9M180.3,308.9L206.3,308.9M220.2,308.9L246.2,308.9M260.0,308.9L286.0,308.9M299.8,308.9L325.8,308.9M339.7,308.9L365.7,308.9M379.5,308.9L405.5,308.9M419.3,308.9L445.3,308.9M459.2,308.9L485.2,308.9M499.0,308.9L525.0,308.9M538.8,308.9L564.8,308.9M604.7,308.9L578.7,308.9M644.5,308.9L618.5,308.9M684.3,308.9L658.3,308.9M724.2,308.9L698.2,308.9M740.0,302.0L762.0,315.8M803.8,308.9L777.8,308.9M817.7,308.9L843.7,308.9M857.5,308.9L883.5,308.9M140.5,324.8L166.5,324.8M180.3,324.8L206.3,324.8M220.2,324.8L246.2,324.8M260.0,324.8L286.0,324.8M299.8,324.8L325.8,324.8M339.7,324.8L365.7,324.8M379.5,324.8L405.5,324.8M419.3,324.8L445.3,324.8M459.2,324.8L485.2,324.8M499.0,324.8L525.0,324.8M538.8,324.8L564.8,324.8M604.7,324.8L578.7,324.8M644.5,324.8L618.5,324.8M684.3,324.8L658.3,324.8M724.2,324.8L698.2,324.8M739.0,319.7L763.0,329.9M803.8,324.8L777.8,324.8M817.7,324.8L843.7,324.8M857.5,324.8L883.5,324.8M140.5,340.7L166.5,340.7M180.3,340.7L206.3,340.7M220.2,340.7L246.2,340.7M260.0,340.7L286.0,340.7M299.8,340.7L325.8,340.7M339.7,340.7L365.7,340.7M405.5,340.7L379.5,340.7M445.3,340.7L419.3,340.7M459.2,340.7L485.2,340.7M499.0,340.7L525.0,340.7M538.8,340.7L564.8,340.7M604.7,340.7L578.7,340.7M644.5,340.7L618.5,340.7M684.3,340.7L658.3,340.7M724.2,340.7L698.2,340.7M738.5,337.1L763.5,344.3M803.8,340.7L777.8,340.7M817.7,340.7L843.7,340.7M857.5,340.7L883.5,340.7M140.5,356.6L166.5,356.6M180.3,356.6L206.3,356.6M220.2,356.6L246.2,356.6M260.0,356.6L286.0,356.6M299.8,356.6L325.8,356.6M339.7,356.6L365.7,356.6M405.5,356.6L379.5,356.6M445.3,356.6L419.3,356.6M459.2,356.6L485.2,356.6M499.0,356.6L525.0,356.6M538.8,356.6L564.8,356.6M604.7,356.6L578.7,356.6M619.6,351.3L643.4,361.9M684.3,356.6L658.3,356.6M724.2,356.6L698.2,356.6M738.4,353.5L763.6,359.7M803.8,356.6L777.8,356.6M817.7,356.6L843.7,356.6M857.5,356.6L883.5,356.6M140.5,372.5L166.5,372.5M180.3,372.5L206.3,372.5M220.2,372.5L246.2,372.5M260.0,372.5L286.0,372.5M299.8,372.5L325.8,372.5M339.7,372.5L365.7,372.5M405.5,372.5L379.5,372.5M445.3,372.5L419.3,372.5M459.2,372.5L485.2,372.5M499.0,372.5L525.0,372.5M538.8,372.5L564.8,372.5M604.7,372.5L578.7,372.5M625.4,384.0L637.6,361.0M684.3,372.5L658.3,372.5M724.2,372.5L698.2,372.5M738.3,369.8L763.7,375.2M803.8,372.5L777.8,372.5M817.7,372.5L843.7,372.5M857.5,372.5L883.5,372.5M140.5,388.4L166.5,388.4M180.3,388.4L206.3,388.4M220.2,388.4L246.2,388.4M260.0,388.4L286.0,388.4M299.8,388.4L325.8,388.4M339.7,388.4L365.7,388.4M405.5,388.4L379.5,388.4M445.3,388.4L419.3,388.4M459.2,388.4L485.2,388.4M499.0,388.4L525.0,388.4M538.8,388.4L564.8,388.4M604.7,388.4L578.7,388.4M619.1,392.4L643.9,384.4M684.3,388.4L658.3,388.4M724.2,388.4L698.2,388.4M764.0,388.4L738.0,388.4M803.8,388.4L777.8,388.4M817.7,388.4L843.7,388.4M857.5,388.4L883.5,388.4M140.5,404.3L166.5,404.3M180.3,404.3L206.3,404.3M220.2,404.3L246.2,404.3M260.0,404.3L286.0,404.3M299.8,404.3L325.8,404.3M339.7,404.3L365.7,404.3M405.5,404.3L379.5,404.3M445.3,404.3L419.3,404.3M459.2,404.3L485.2,404.3M499.0,404.3L525.0,404.3M538.8,404.3L564.8,404.3M604.7,404.3L578.7,404.3M618.6,406.1L644.4,402.5M684.3,404.3L658.3,404.3M724.2,404.3L698.2,404.3M764.0,404.3L738.0,404.3M779.4,410.4L802.3,398.2M817.7,404.3L843.7,404.3M857.5,404.3L883.5,404.3M140.5,420.2L166.5,420.2M180.3,420.2L206.3,420.2M220.2,420.2L246.2,420.2M260.0,420.2L286.0,420.2M299.8,420.2L325.8,420.2M339.7,420.2L365.7,420.2M379.5,420.2L405.5,420.2M445.3,420.2L419.3,420.2M459.2,420.2L485.2,420.2M499.0,420.2L525.0,420.2M538.8,420.2L564.8,420.2M604.7,420.2L578.7,420.2M644.5,420.2L618.5,420.2M684.3,420.2L658.3,420.2M724.2,420.2L698.2,420.2M764.0,420.2L738.0,420.2M803.8,420.2L777.8,420.2M817.7,420.2L843.7,420.2M857.5,420.2L883.5,420.2M140.5,436.1L166.5,436.1M180.3,436.1L206.3,436.1M220.2,436.1L246.2,436.1M260.0,436.1L286.0,436.1M299.8,436.1L325.8,436.1M339.7,436.1L365.7,436.1M379.5,436.1L405.5,436.1M445.3,436.1L419.3,436.1M459.2,436.1L485.2,436.1M499.0,436.1L525.0,436.1M538.8,436.1L564.8,436.1M604.7,436.1L578.7,436.1M644.5,436.1L618.5,436.1M684.3,436.1L658.3,436.1M724.2,436.1L698.2,436.1M764.0,436.1L738.0,436.1M803.8,436.1L777.8,436.1M817.7,436.1L843.7,436.1M857.5,436.1L883.5,436.1M140.5,452.0L166.5,452.0M180.3,452.0L206.3,452.0M220.2,452.0L246.2,452.0M260.0,452.0L286.0,452.0M299.8,452.0L325.8,452.0M339.7,452.0L365.7,452.0M379.5,452.0L405.5,452.0M445.3,452.0L419.3,452.0M459.2,452.0L485.2,452.0M499.0,452.0L525.0,452.0M538.8,452.0L564.8,452.0M604.7,452.0L578.7,452.0M618.5,452.0L644.5,452.0M658.3,452.0L684.3,452.0M724.2,452.0L698.2,452.0M764.0,452.0L738.0,452.0M777.8,452.0L803.8,452.0M817.7,452.0L843.7,452.0M857.5,452.0L883.5,452.0M140.5,467.9L166.5,467.9M180.3,467.9L206.3,467.9M220.2,467.9L246.2,467.9M260.0,467.9L286.0,467.9M299.8,467.9L325.8,467.9M339.7,467.9L365.7,467.9M379.5,467.9L405.5,467.9M445.3,467.9L419.3,467.9M459.2,467.9L485.2,467.9M499.0,467.9L525.0,467.9M538.8,467.9L564.8,467.9M604.7,467.9L578.7,467.9M618.5,467.9L644.5,467.9M658.3,467.9L684.3,467.9M724.2,467.9L698.2,467.9M764.0,467.9L738.0,467.9M777.8,467.9L803.8,467.9M817.7,467.9L843.7,467.9M857.5,467.9L883.5,467.9M140.5,483.8L166.5,483.8M180.3,483.8L206.3,483.8M220.2,483.8L246.2,483.8M260.0,483.8L286.0,483.8M299.8,483.8L325.8,483.8M339.7,483.8L365.7,483.8M379.5,483.8L405.5,483.8M445.3,483.8L419.3,483.8M459.2,483.8L485.2,483.8M499.0,483.8L525.0,483.8M538.8,483.8L564.8,483.8M604.7,483.8L578.7,483.8M618.5,483.8L644.5,483.8M658.3,483.8L684.3,483.8M724.2,483.8L698.2,483.8M764.0,483.8L738.0,483.8M777.8,483.8L803.8,483.8M817.7,483.8L843.7,483.8M857.5,483.8L883.5,483.8M140.5,499.7L166.5,499.7M180.3,499.7L206.3,499.7M220.2,499.7L246.2,499.7M260.0,499.7L286.0,499.7M299.8,499.7L325.8,499.7M339.7,499.7L365.7,499.7M379.5,499.7L405.5,499.7M445.3,499.7L419.3,499.7M459.2,499.7L485.2,499.7M499.0,499.7L525.0,499.7M538.8,499.7L564.8,499.7M604.7,499.7L578.7,499.7M618.5,499.7L644.5,499.7M658.3,499.7L684.3,499.7M724.2,499.7L698.2,499.7M764.0,499.7L738.0,499.7M777.8,499.7L803.8,499.7M817.7,499.7L843.7,499.7M857.5,499.7L883.5,499.7M140.5,515.6L166.5,515.6M180.3,515.6L206.3,515.6M220.2,515.6L246.2,515.6M260.0,515.6L286.0,515.6M299.8,515.6L325.8,515.6M339.7,515.6L365.7,515.6M379.5,515.6L405.5,515.6M445.3,515.6L419.3,515.6M459.2,515.6L485.2,515.6M499.0,515.6L525.0,515.6M538.8,515.6L564.8,515.6M604.7,515.6L578.7,515.6M618.5,515.6L644.5,515.6M658.3,515.6L684.3,515.6M724.2,515.6L698.2,515.6M764.0,515.6L738.0,515.6M777.8,515.6L803.8,515.6M817.7,515.6L843.7,515.6M857.5,515.6L883.5,515.6M140.5,531.5L166.5,531.5M180.3,531.5L206.3,531.5M220.2,531.5L246.2,531.5M260.0,531.5L286.0,531.5M299.8,531.5L325.8,531.5M339.7,531.5L365.7,531.5M379.5,531.5L405.5,531.5M445.3,531.5L419.3,531.5M459.2,531.5L485.2,531.5M499.0,531.5L525.0,531.5M538.8,531.5L564.8,531.5M604.7,531.5L578.7,531.5M618.5,531.5L644.5,531.5M658.3,531.5L684.3,531.5M724.2,531.5L698.2,531.5M764.0,531.5L738.0,531.5M777.8,531.5L803.8,531.5M817.7,531.5L843.7,531.5M857.5,531.5L883.5,531.5M140.5,547.4L166.5,547.4M180.3,547.4L206.3,547.4M220.2,547.4L246.2,547.4M260.0,547.4L286.0,547.4M299.8,547.4L325.8,547.4M339.7,547.4L365.7,547.4M379.5,547.4L405.5,547.4M445.3,547.4L419.3,547.4M459.2,547.4L485.2,547.4M499.0,547.4L525.0,547.4M538.8,547.4L564.8,547.4M604.7,547.4L578.7,547.4M618.5,547.4L644.5,547.4M658.3,547.4L684.3,547.4M724.2,547.4L698.2,547.4M764.0,547.4L738.0,547.4M777.8,547.4L803.8,547.4M817.7,547.4L843.7,547.4M857.5,547.4L883.5,547.4M140.5,563.3L166.5,563.3M180.3,563.3L206.3,563.3M220.2,563.3L246.2,563.3M260.0,563.3L286.0,563.3M299.8,563.3L325.8,563.3M339.7,563.3L365.7,563.3M379.5,563.3L405.5,563.3M445.3,563.3L419.3,563.3M459.2,563.3L485.2,563.3M499.0,563.3L525.0,563.3M538.8,563.3L564.8,563.3M604.7,563.3L578.7,563.3M618.5,563.3L644.5,563.3M658.3,563.3L684.3,563.3M724.2,563.3L698.2,563.3M764.0,563.3L738.0,563.3M777.8,563.3L803.8,563.3M817.7,563.3L843.7,563.3M857.5,563.3L883.5,563.3" stroke="#520f88" stroke-width="1.0" fill="none" stroke-opacity="0.74"/>
<path d="M160.4,102.2L186.4,102.2M200.2,102.2L226.2,102.2M240.1,102.2L266.1,102.2M279.9,102.2L305.9,102.2M319.8,102.2L345.8,102.2M385.6,102.2L359.6,102.2M425.4,102.2L399.4,102.2M439.2,102.2L465.2,102.2M479.1,102.2L505.1,102.2M518.9,102.2L544.9,102.2M584.8,102.2L558.8,102.2M624.6,102.2L598.6,102.2M664.4,102.2L638.4,102.2M704.2,102.2L678.2,102.2M744.1,102.2L718.1,102.2M783.9,102.2L757.9,102.2M823.8,102.2L797.8,102.2M840.6,110.6L860.5,93.8M160.4,118.1L186.4,118.1M200.2,118.1L226.2,118.1M240.1,118.1L266.1,118.1M279.9,118.1L305.9,118.1M319.8,118.1L345.8,118.1M385.6,118.1L359.6,118.1M399.6,120.5L425.2,115.7M439.2,118.1L465.2,118.1M479.1,118.1L505.1,118.1M518.9,118.1L544.9,118.1M584.8,118.1L558.8,118.1M624.6,118.1L598.6,118.1M664.4,118.1L638.4,118.1M704.2,118.1L678.2,118.1M744.1,118.1L718.1,118.1M783.9,118.1L757.9,118.1M823.8,118.1L797.8,118.1M842.6,128.3L858.6,107.9M160.4,134.0L186.4,134.0M200.2,134.0L226.2,134.0M240.1,134.0L266.1,134.0M279.9,134.0L305.9,134.0M319.8,134.0L345.8,134.0M385.6,134.0L359.6,134.0M401.5,141.0L423.4,127.0M439.2,134.0L465.2,134.0M479.1,134.0L505.1,134.0M518.9,134.0L544.9,134.0M584.8,134.0L558.8,134.0M624.6,134.0L598.6,134.0M664.4,134.0L638.4,134.0M704.2,134.0L678.2,134.0M744.1,134.0L718.1,134.0M783.9,134.0L757.9,134.0M823.8,134.0L797.8,134.0M838.8,139.4L862.4,128.6M160.4,149.9L186.4,149.9M200.2,149.9L226.2,149.9M240.1,149.9L266.1,149.9M279.9,149.9L305.9,149.9M319.8,149.9L345.8,149.9M385.6,149.9L359.6,149.9M400.9,143.9L424.0,155.9M439.2,149.9L465.2,149.9M479.1,149.9L505.1,149.9M518.9,149.9L544.9,149.9M584.8,149.9L558.8,149.9M624.6,149.9L598.6,149.9M664.4,149.9L638.4,149.9M704.2,149.9L678.2,149.9M744.1,149.9L718.1,149.9M783.9,149.9L757.9,149.9M823.8,149.9L797.8,149.9M838.0,153.0L863.2,146.8M160.4,165.8L186.4,165.8M200.2,165.8L226.2,165.8M240.1,165.8L266.1,165.8M279.9,165.8L305.9,165.8M319.8,165.8L345.8,165.8M385.6,165.8L359.6,165.8M399.5,164.7L425.4,166.9M439.2,165.8L465.2,165.8M479.1,165.8L505.1,165.8M518.9,165.8L544.9,165.8M584.8,165.8L558.8,165.8M624.6,165.8L598.6,165.8M664.4,165.8L638.4,165.8M704.2,165.8L678.2,165.8M744.1,165.8L718.1,165.8M783.9,165.8L757.9,165.8M798.1,162.9L823.4,168.7M863.6,165.8L837.6,165.8M160.4,181.7L186.4,181.7M200.2,181.7L226.2,181.7M240.1,181.7L266.1,181.7M279.9,181.7L305.9,181.7M319.8,181.7L345.8,181.7M385.6,181.7L359.6,181.7M425.4,181.7L399.4,181.7M439.2,181.7L465.2,181.7M479.1,181.7L505.1,181.7M518.9,181.7L544.9,181.7M584.8,181.7L558.8,181.7M624.6,181.7L598.6,181.7M664.4,181.7L638.4,181.7M704.2,181.7L678.2,181.7M744.1,181.7L718.1,181.7M758.7,186.1L783.1,177.3M798.5,177.3L823.0,186.1M837.7,183.5L863.5,179.9M160.4,197.6L186.4,197.6M200.2,197.6L226.2,197.6M240.1,197.6L266.1,197.6M279.9,197.6L305.9,197.6M319.8,197.6L345.8,197.6M385.6,197.6L359.6,197.6M425.4,197.6L399.4,197.6M439.2,197.6L465.2,197.6M479.1,197.6L505.1,197.6M518.9,197.6L544.9,197.6M584.8,197.6L558.8,197.6M624.6,197.6L598.6,197.6M664.4,197.6L638.4,197.6M704.2,197.6L678.2,197.6M744.1,197.6L718.1,197.6M758.0,195.8L783.8,199.4M810.8,210.6L810.8,184.6M863.6,197.6L837.6,197.6M160.4,213.5L186.4,213.5M200.2,213.5L226.2,213.5M240.1,213.5L266.1,213.5M279.9,213.5L305.9,213.5M319.8,213.5L345.8,213.5M385.6,213.5L359.6,213.5M425.4,213.5L399.4,213.5M439.2,213.5L465.2,213.5M479.1,213.5L505.1,213.5M518.9,213.5L544.9,213.5M624.6,213.5L598.6,213.5M664.4,213.5L638.4,213.5M704.2,213.5L678.2,213.5M744.1,213.5L718.1,213.5M783.9,213.5L757.9,213.5M798.1,216.6L823.4,210.4M837.6,213.5L863.6,213.5M160.4,229.4L186.4,229.4M200.2,229.4L226.2,229.4M240.1,229.4L266.1,229.4M279.9,229.4L305.9,229.4M319.8,229.4L345.8,229.4M385.6,229.4L359.6,229.4M425.4,229.4L399.4,229.4M439.2,229.4L465.2,229.4M479.1,229.4L505.1,229.4M518.9,229.4L544.9,229.4M624.6,229.4L598.6,229.4M664.4,229.4L638.4,229.4M704.2,229.4L678.2,229.4M744.1,229.4L718.1,229.4M783.9,229.4L757.9,229.4M797.8,229.4L823.8,229.4M837.6,229.4L863.6,229.4M160.4,245.3L186.4,245.3M200.2,245.3L226.2,245.3M240.1,245.3L266.1,245.3M279.9,245.3L305.9,245.3M319.8,245.3L345.8,245.3M385.6,245.3L359.6,245.3M425.4,245.3L399.4,245.3M439.2,245.3L465.2,245.3M479.1,245.3L505.1,245.3M518.9,245.3L544.9,245.3M584.8,245.3L558.8,245.3M624.6,245.3L598.6,245.3M664.4,245.3L638.4,245.3M704.2,245.3L678.2,245.3M744.1,245.3L718.1,245.3M783.9,245.3L757.9,245.3M797.8,245.3L823.8,245.3M837.6,245.3L863.6,245.3M160.4,261.2L186.4,261.2M200.2,261.2L226.2,261.2M240.1,261.2L266.1,261.2M279.9,261.2L305.9,261.2M319.8,261.2L345.8,261.2M385.6,261.2L359.6,261.2M425.4,261.2L399.4,261.2M439.2,261.2L465.2,261.2M479.1,261.2L505.1,261.2M518.9,261.2L544.9,261.2M584.8,261.2L558.8,261.2M624.6,261.2L598.6,261.2M664.4,261.2L638.4,261.2M704.2,261.2L678.2,261.2M744.1,261.2L718.1,261.2M783.9,261.2L757.9,261.2M797.8,261.2L823.8,261.2M837.6,261.2L863.6,261.2M160.4,277.1L186.4,277.1M200.2,277.1L226.2,277.1M240.1,277.1L266.1,277.1M279.9,277.1L305.9,277.1M319.8,277.1L345.8,277.1M359.6,277.1L385.6,277.1M399.4,277.1L425.4,277.1M439.2,277.1L465.2,277.1M479.1,277.1L505.1,277.1M518.9,277.1L544.9,277.1M558.8,277.1L584.8,277.1M624.6,277.1L598.6,277.1M664.4,277.1L638.4,277.1M704.2,277.1L678.2,277.1M744.1,277.1L718.1,277.1M783.9,277.1L757.9,277.1M797.8,277.1L823.8,277.1M837.6,277.1L863.6,277.1M160.4,293.0L186.4,293.0M200.2,293.0L226.2,293.0M240.1,293.0L266.1,293.0M279.9,293.0L305.9,293.0M319.8,293.0L345.8,293.0M359.6,293.0L385.6,293.0M399.7,295.5L425.2,290.5M439.2,293.0L465.2,293.0M479.1,293.0L505.1,293.0M518.9,293.0L544.9,293.0M558.8,293.0L584.8,293.0M624.6,293.0L598.6,293.0M664.4,293.0L638.4,293.0M704.2,293.0L678.2,293.0M744.1,293.0L718.1,293.0M783.9,293.0L757.9,293.0M797.8,293.0L823.8,293.0M837.6,293.0L863.6,293.0M160.4,308.9L186.4,308.9M200.2,308.9L226.2,308.9M240.1,308.9L266.1,308.9M279.9,308.9L305.9,308.9M319.8,308.9L345.8,308.9M359.6,308.9L385.6,308.9M403.9,299.1L420.9,318.7M439.2,308.9L465.2,308.9M479.1,308.9L505.1,308.9M518.9,308.9L544.9,308.9M558.8,308.9L584.8,308.9M624.6,308.9L598.6,308.9M664.4,308.9L638.4,308.9M704.2,308.9L678.2,308.9M744.1,308.9L718.1,308.9M783.9,308.9L757.9,308.9M797.8,308.9L823.8,308.9M837.6,308.9L863.6,308.9M160.4,324.8L186.4,324.8M200.2,324.8L226.2,324.8M240.1,324.8L266.1,324.8M279.9,324.8L305.9,324.8M319.8,324.8L345.8,324.8M359.6,324.8L385.6,324.8M399.7,322.1L425.1,327.5M439.2,324.8L465.2,324.8M479.1,324.8L505.1,324.8M518.9,324.8L544.9,324.8M558.8,324.8L584.8,324.8M624.6,324.8L598.6,324.8M664.4,324.8L638.4,324.8M704.2,324.8L678.2,324.8M744.1,324.8L718.1,324.8M783.9,324.8L757.9,324.8M797.8,324.8L823.8,324.8M837.6,324.8L863.6,324.8M160.4,340.7L186.4,340.7M200.2,340.7L226.2,340.7M240.1,340.7L266.1,340.7M279.9,340.7L305.9,340.7M319.8,340.7L345.8,340.7M359.6,340.7L385.6,340.7M399.4,340.7L425.4,340.7M439.2,340.7L465.2,340.7M479.1,340.7L505.1,340.7M518.9,340.7L544.9,340.7M584.8,340.7L558.8,340.7M624.6,340.7L598.6,340.7M646.8,352.8L656.1,328.6M704.2,340.7L678.2,340.7M744.1,340.7L718.1,340.7M783.9,340.7L757.9,340.7M797.8,340.7L823.8,340.7M837.6,340.7L863.6,340.7M160.4,356.6L186.4,356.6M200.2,356.6L226.2,356.6M240.1,356.6L266.1,356.6M279.9,356.6L305.9,356.6M319.8,356.6L345.8,356.6M359.6,356.6L385.6,356.6M399.4,356.6L425.4,356.6M439.2,356.6L465.2,356.6M479.1,356.6L505.1,356.6M518.9,356.6L544.9,356.6M584.8,356.6L558.8,356.6M624.6,356.6L598.6,356.6M638.5,358.4L664.3,354.8M704.2,356.6L678.2,356.6M744.1,356.6L718.1,356.6M783.9,356.6L757.9,356.6M797.8,356.6L823.8,356.6M837.6,356.6L863.6,356.6M160.4,372.5L186.4,372.5M200.2,372.5L226.2,372.5M240.1,372.5L266.1,372.5M279.9,372.5L305.9,372.5M319.8,372.5L345.8,372.5M359.6,372.5L385.6,372.5M399.4,372.5L425.4,372.5M439.2,372.5L465.2,372.5M479.1,372.5L505.1,372.5M518.9,372.5L544.9,372.5M584.8,372.5L558.8,372.5M624.6,372.5L598.6,372.5M638.5,374.3L664.3,370.7M704.2,372.5L678.2,372.5M744.1,372.5L718.1,372.5M783.9,372.5L757.9,372.5M797.8,372.5L823.8,372.5M837.6,372.5L863.6,372.5M160.4,388.4L186.4,388.4M200.2,388.4L226.2,388.4M240.1,388.4L266.1,388.4M279.9,388.4L305.9,388.4M319.8,388.4L345.8,388.4M359.6,388.4L385.6,388.4M399.4,388.4L425.4,388.4M439.2,388.4L465.2,388.4M479.1,388.4L505.1,388.4M518.9,388.4L544.9,388.4M584.8,388.4L558.8,388.4M664.4,388.4L638.4,388.4M704.2,388.4L678.2,388.4M744.1,388.4L718.1,388.4M783.9,388.4L757.9,388.4M797.8,388.4L823.8,388.4M837.6,388.4L863.6,388.4M160.4,404.3L186.4,404.3M200.2,404.3L226.2,404.3M240.1,404.3L266.1,404.3M279.9,404.3L305.9,404.3M319.8,404.3L345.8,404.3M359.6,404.3L385.6,404.3M399.4,404.3L425.4,404.3M439.2,404.3L465.2,404.3M479.1,404.3L505.1,404.3M518.9,404.3L544.9,404.3M584.8,404.3L558.8,404.3M664.4,404.3L638.4,404.3M704.2,404.3L678.2,404.3M744.1,404.3L718.1,404.3M783.9,404.3L757.9,404.3M797.8,404.3L823.8,404.3M837.6,404.3L863.6,404.3M160.4,420.2L186.4,420.2M200.2,420.2L226.2,420.2M240.1,420.2L266.1,420.2M279.9,420.2L305.9,420.2M319.8,420.2L345.8,420.2M359.6,420.2L385.6,420.2M399.4,420.2L425.4,420.2M439.2,420.2L465.2,420.2M479.1,420.2L505.1,420.2M518.9,420.2L544.9,420.2M584.8,420.2L558.8,420.2M624.6,420.2L598.6,420.2M664.4,420.2L638.4,420.2M704.2,420.2L678.2,420.2M719.4,425.9L742.8,414.5M783.9,420.2L757.9,420.2M797.8,420.2L823.8,420.2M837.6,420.2L863.6,420.2M160.4,436.1L186.4,436.1M200.2,436.1L226.2,436.1M240.1,436.1L266.1,436.1M279.9,436.1L305.9,436.1M319.8,436.1L345.8,436.1M359.6,436.1L385.6,436.1M399.4,436.1L425.4,436.1M439.2,436.1L465.2,436.1M479.1,436.1L505.1,436.1M518.9,436.1L544.9,436.1M584.8,436.1L558.8,436.1M624.6,436.1L598.6,436.1M664.4,436.1L638.4,436.1M704.2,436.1L678.2,436.1M744.1,436.1L718.1,436.1M783.9,436.1L757.9,436.1M797.8,436.1L823.8,436.1M837.6,436.1L863.6,436.1M160.4,452.0L186.4,452.0M200.2,452.0L226.2,452.0M240.1,452.0L266.1,452.0M279.9,452.0L305.9,452.0M319.8,452.0L345.8,452.0M359.6,452.0L385.6,452.0M399.4,452.0L425.4,452.0M439.2,452.0L465.2,452.0M479.1,452.0L505.1,452.0M518.9,452.0L544.9,452.0M558.8,452.0L584.8,452.0M598.6,452.0L624.6,452.0M638.4,452.0L664.4,452.0M682.6,442.3L699.9,461.7M744.1,452.0L718.1,452.0M757.9,452.0L783.9,452.0M797.8,452.0L823.8,452.0M837.6,452.0L863.6,452.0M160.4,467.9L186.4,467.9M200.2,467.9L226.2,467.9M240.1,467.9L266.1,467.9M279.9,467.9L305.9,467.9M319.8,467.9L345.8,467.9M359.6,467.9L385.6,467.9M399.4,467.9L425.4,467.9M439.2,467.9L465.2,467.9M479.1,467.9L505.1,467.9M518.9,467.9L544.9,467.9M558.8,467.9L584.8,467.9M598.6,467.9L624.6,467.9M638.4,467.9L664.4,467.9M679.6,473.6L702.9,462.2M744.1,467.9L718.1,467.9M757.9,467.9L783.9,467.9M797.8,467.9L823.8,467.9M837.6,467.9L863.6,467.9M160.4,483.8L186.4,483.8M200.2,483.8L226.2,483.8M240.1,483.8L266.1,483.8M279.9,483.8L305.9,483.8M319.8,483.8L345.8,483.8M359.6,483.8L385.6,483.8M399.4,483.8L425.4,483.8M439.2,483.8L465.2,483.8M479.1,483.8L505.1,483.8M518.9,483.8L544.9,483.8M558.8,483.8L584.8,483.8M598.6,483.8L624.6,483.8M638.4,483.8L664.4,483.8M704.2,483.8L678.2,483.8M744.1,483.8L718.1,483.8M757.9,483.8L783.9,483.8M797.8,483.8L823.8,483.8M837.6,483.8L863.6,483.8M160.4,499.7L186.4,499.7M200.2,499.7L226.2,499.7M240.1,499.7L266.1,499.7M279.9,499.7L305.9,499.7M319.8,499.7L345.8,499.7M359.6,499.7L385.6,499.7M399.4,499.7L425.4,499.7M439.2,499.7L465.2,499.7M479.1,499.7L505.1,499.7M518.9,499.7L544.9,499.7M558.8,499.7L584.8,499.7M598.6,499.7L624.6,499.7M638.4,499.7L664.4,499.7M704.2,499.7L678.2,499.7M744.1,499.7L718.1,499.7M757.9,499.7L783.9,499.7M797.8,499.7L823.8,499.7M837.6,499.7L863.6,499.7M160.4,515.6L186.4,515.6M200.2,515.6L226.2,515.6M240.1,515.6L266.1,515.6M279.9,515.6L305.9,515.6M319.8,515.6L345.8,515.6M359.6,515.6L385.6,515.6M399.4,515.6L425.4,515.6M439.2,515.6L465.2,515.6M479.1,515.6L505.1,515.6M518.9,515.6L544.9,515.6M598.6,515.6L624.6,515.6M638.4,515.6L664.4,515.6M704.2,515.6L678.2,515.6M744.1,515.6L718.1,515.6M757.9,515.6L783.9,515.6M797.8,515.6L823.8,515.6M837.6,515.6L863.6,515.6M160.4,531.5L186.4,531.5M200.2,531.5L226.2,531.5M240.1,531.5L266.1,531.5M279.9,531.5L305.9,531.5M319.8,531.5L345.8,531.5M359.6,531.5L385.6,531.5M399.4,531.5L425.4,531.5M439.2,531.5L465.2,531.5M479.1,531.5L505.1,531.5M518.9,531.5L544.9,531.5M598.6,531.5L624.6,531.5M638.4,531.5L664.4,531.5M704.2,531.5L678.2,531.5M744.1,531.5L718.1,531.5M757.9,531.5L783.9,531.5M797.8,531.5L823.8,531.5M837.6,531.5L863.6,531.5M160.4,547.4L186.4,547.4M200.2,547.4L226.2,547.4M240.1,547.4L266.1,547.4M279.9,547.4L305.9,547.4M319.8,547.4L345.8,547.4M359.6,547.4L385.6,547.4M399.4,547.4L425.4,547.4M439.2,547.4L465.2,547.4M479.1,547.4L505.1,547.4M518.9,547.4L544.9,547.4M598.6,547.4L624.6,547.4M638.4,547.4L664.4,547.4M704.2,547.4L678.2,547.4M744.1,547.4L718.1,547.4M757.9,547.4L783.9,547.4M797.8,547.4L823.8,547.4M837.6,547.4L863.6,547.4M160.4,563.3L186.4,563.3M200.2,563.3L226.2,563.3M240.1,563.3L266.1,563.3M279.9,563.3L305.9,563.3M319.8,563.3L345.8,563.3M359.6,563.3L385.6,563.3M399.4,563.3L425.4,563.3M439.2,563.3L465.2,563.3M479.1,563.3L505.1,563.3M518.9,563.3L544.9,563.3M598.6,563.3L624.6,563.3M638.4,563.3L664.4,563.3M704.2,563.3L678.2,563.3M744.1,563.3L718.1,563.3M757.9,563.3L783.9,563.3M797.8,563.3L823.8,563.3M837.6,563.3L863.6,563.3" stroke="#520f88" stroke-width="1.0" fill="none" stroke-opacity="0.74"/>
<path d="M166.5,102.2l3.8,7.2M186.4,102.2l3.8,7.2M202.7,102.2l1.9,3.6M222.7,102.2l1.9,3.6M246.2,102.2l3.8,7.2M262.5,102.2l1.9,3.6M282.4,102.2l1.9,3.6M302.3,102.2l1.9,3.6M322.2,102.2l1.9,3.6M342.1,102.2l1.9,3.6M343.3,102.2l-1.9,-3.6M461.6,102.2l1.9,3.6M501.5,102.2l1.9,3.6M521.4,102.2l1.9,3.6M541.3,102.2l1.9,3.6M562.4,102.2l-1.9,-3.6M582.3,102.2l-1.9,-3.6M602.2,102.2l-1.9,-3.6M622.1,102.2l-1.9,-3.6M642.0,102.2l-1.9,-3.6M661.9,102.2l-1.9,-3.6M681.9,102.2l-1.9,-3.6M701.8,102.2l-1.9,-3.6M721.7,102.2l-1.9,-3.6M741.6,102.2l-1.9,-3.6M761.5,102.2l-1.9,-3.6M781.4,102.2l-1.9,-3.6M801.4,102.2l-1.9,-3.6M821.3,102.2l-1.9,-3.6M857.8,96.2l3.8,1.5M861.1,102.2l-1.9,-3.6M166.5,118.1l3.8,7.2M186.4,118.1l3.8,7.2M202.7,118.1l1.9,3.6M222.7,118.1l1.9,3.6M246.2,118.1l3.8,7.2M262.5,118.1l1.9,3.6M282.4,118.1l1.9,3.6M302.3,118.1l1.9,3.6M322.2,118.1l1.9,3.6M342.1,118.1l1.9,3.6M343.7,121.0l-2.9,-2.8M461.6,118.1l1.9,3.6M501.5,118.1l1.9,3.6M521.4,118.1l1.9,3.6M541.3,118.1l1.9,3.6M562.4,118.1l-1.9,-3.6M582.3,118.1l-1.9,-3.6M602.2,118.1l-1.9,-3.6M622.1,118.1l-1.9,-3.6M642.0,118.1l-1.9,-3.6M661.9,118.1l-1.9,-3.6M681.9,118.1l-1.9,-3.6M701.8,118.1l-1.9,-3.6M721.7,118.1l-1.9,-3.6M741.6,118.1l-1.9,-3.6M761.5,118.1l-1.9,-3.6M781.4,118.1l-1.9,-3.6M801.4,118.1l-1.9,-3.6M821.3,118.1l-1.9,-3.6M856.4,110.7l4.0,0.7M861.1,118.1l-1.9,-3.6M166.5,134.0l3.8,7.2M186.4,134.0l3.8,7.2M202.7,134.0l1.9,3.6M226.2,134.0l3.8,7.2M246.2,134.0l3.8,7.2M262.5,134.0l1.9,3.6M282.4,134.0l1.9,3.6M302.3,134.0l1.9,3.6M322.2,134.0l1.9,3.6M342.1,134.0l1.9,3.6M343.4,135.8l-2.6,-3.2M461.6,134.0l1.9,3.6M501.5,134.0l1.9,3.6M521.4,134.0l1.9,3.6M541.3,134.0l1.9,3.6M562.4,134.0l-1.9,-3.6M582.3,134.0l-1.9,-3.6M602.2,134.0l-1.9,-3.6M622.1,134.0l-1.9,-3.6M642.0,134.0l-1.9,-3.6M661.9,134.0l-1.9,-3.6M681.9,134.0l-1.9,-3.6M701.8,134.0l-1.9,-3.6M721.7,134.0l-1.9,-3.6M741.6,134.0l-1.9,-3.6M761.5,134.0l-1.9,-3.6M781.4,134.0l-1.9,-3.6M801.4,134.0l-1.9,-3.6M821.3,134.0l-1.9,-3.6M859.1,130.1l3.3,2.5M861.1,134.0l-1.9,-3.6M166.5,149.9l3.8,7.2M186.4,149.9l3.8,7.2M206.3,149.9l3.8,7.2M226.2,149.9l3.8,7.2M246.2,149.9l3.8,7.2M266.1,149.9l3.8,7.2M282.4,149.9l1.9,3.6M302.3,149.9l1.9,3.6M322.2,149.9l1.9,3.6M342.1,149.9l1.9,3.6M343.4,151.4l-2.5,-3.3M461.6,149.9l1.9,3.6M501.5,149.9l1.9,3.6M521.4,149.9l1.9,3.6M541.3,149.9l1.9,3.6M562.4,149.9l-1.9,-3.6M582.3,149.9l-1.9,-3.6M602.2,149.9l-1.9,-3.6M622.1,149.9l-1.9,-3.6M642.0,149.9l-1.9,-3.6M661.9,149.9l-1.9,-3.6M681.9,149.9l-1.9,-3.6M701.8,149.9l-1.9,-3.6M721.7,149.9l-1.9,-3.6M741.6,149.9l-1.9,-3.6M761.5,149.9l-1.9,-3.6M781.4,149.9l-1.9,-3.6M801.4,149.9l-1.9,-3.6M821.3,149.9l-1.9,-3.6M859.7,147.6l2.7,3.0M861.1,150.6l-2.2,-3.5M166.5,165.8l3.8,7.2M186.4,165.8l3.8,7.2M206.3,165.8l3.8,7.2M226.2,165.8l3.8,7.2M246.2,165.8l3.8,7.2M266.1,165.8l3.8,7.2M282.4,165.8l1.9,3.6M302.3,165.8l1.9,3.6M322.2,165.8l1.9,3.6M342.1,165.8l1.9,3.6M343.3,166.6l-2.2,-3.4M461.6,165.8l1.9,3.6M501.5,165.8l1.9,3.6M521.4,165.8l1.9,3.6M541.3,165.8l1.9,3.6M562.4,165.8l-1.9,-3.6M582.3,165.8l-1.9,-3.6M602.2,165.8l-1.9,-3.6M622.1,165.8l-1.9,-3.6M642.0,165.8l-1.9,-3.6M661.9,165.8l-1.9,-3.6M681.9,165.8l-1.9,-3.6M701.8,165.8l-1.9,-3.6M721.7,165.8l-1.9,-3.6M741.6,165.8l-1.9,-3.6M761.5,165.8l-1.9,-3.6M781.4,165.8l-1.9,-3.6M819.9,167.9l1.1,4.0M839.9,163.8l2.6,3.1M841.2,165.8l-1.9,-3.6M861.1,166.1l-2.1,-3.6M166.5,181.7l3.8,7.2M186.4,181.7l3.8,7.2M206.3,181.7l3.8,7.2M226.2,181.7l3.8,7.2M246.2,181.7l3.8,7.2M266.1,181.7l3.8,7.2M282.4,181.7l1.9,3.6M302.3,181.7l1.9,3.6M322.2,181.7l1.9,3.6M342.1,181.7l1.9,3.6M343.3,181.7l-1.9,-3.6M461.6,181.7l1.9,3.6M501.5,181.7l1.9,3.6M521.4,181.7l1.9,3.6M541.3,181.7l1.9,3.6M562.4,181.7l-1.9,-3.6M582.3,181.7l-1.9,-3.6M602.2,181.7l-1.9,-3.6M622.1,181.7l-1.9,-3.6M642.0,181.7l-1.9,-3.6M661.9,181.7l-1.9,-3.6M681.9,181.7l-1.9,-3.6M701.8,181.7l-1.9,-3.6M721.7,181.7l-1.9,-3.6M741.6,181.7l-1.9,-3.6M781.4,181.7l-1.9,-3.6M840.0,183.0l1.4,3.9M859.9,180.4l2.4,3.3M861.1,181.7l-1.9,-3.6M166.5,197.6l3.8,7.2M186.4,197.6l3.8,7.2M206.3,197.6l3.8,7.2M226.2,197.6l3.8,7.2M246.2,197.6l3.8,7.2M266.1,197.6l3.8,7.2M286.0,197.6l3.8,7.2M305.9,197.6l3.8,7.2M325.8,197.6l3.8,7.2M342.1,197.6l1.9,3.6M343.3,197.6l-1.9,-3.6M461.6,197.6l1.9,3.6M501.5,197.6l1.9,3.6M521.4,197.6l1.9,3.6M541.3,197.6l1.9,3.6M562.4,197.6l-1.9,-3.6M582.3,197.6l-1.9,-3.6M602.2,197.6l-1.9,-3.6M622.1,197.6l-1.9,-3.6M642.0,197.6l-1.9,-3.6M661.9,197.6l-1.9,-3.6M681.9,197.6l-1.9,-3.6M701.8,197.6l-1.9,-3.6M721.7,197.6l-1.9,-3.6M741.6,197.6l-1.9,-3.6M780.2,198.9l1.4,3.9M781.4,197.6l-1.9,-3.6M810.8,188.2l3.6,-1.9M821.3,197.6l-1.9,-3.6M841.2,197.6l-1.9,-3.6M861.1,197.6l-1.9,-3.6M166.5,213.5l3.8,7.2M186.4,213.5l3.8,7.2M206.3,213.5l3.8,7.2M226.2,213.5l3.8,7.2M246.2,213.5l3.8,7.2M266.1,213.5l3.8,7.2M286.0,213.5l3.8,7.2M305.9,213.5l3.8,7.2M325.8,213.5l3.8,7.2M342.1,213.5l1.9,3.6M343.3,213.5l-1.9,-3.6M461.6,213.5l1.9,3.6M501.5,213.5l1.9,3.6M521.4,213.5l1.9,3.6M541.3,213.5l1.9,3.6M582.3,213.5l-1.9,-3.6M602.2,213.5l-1.9,-3.6M622.1,213.5l-1.9,-3.6M642.0,213.5l-1.9,-3.6M661.9,213.5l-1.9,-3.6M681.9,213.5l-1.9,-3.6M701.8,213.5l-1.9,-3.6M721.7,213.5l-1.9,-3.6M741.6,213.5l-1.9,-3.6M761.5,213.5l-1.9,-3.6M781.4,213.5l-1.9,-3.6M840.1,213.5l1.9,3.6M860.0,213.5l1.9,3.6M879.9,213.5l1.9,3.6M166.5,229.4l3.8,7.2M186.4,229.4l3.8,7.2M206.3,229.4l3.8,7.2M226.2,229.4l3.8,7.2M246.2,229.4l3.8,7.2M266.1,229.4l3.8,7.2M286.0,229.4l3.8,7.2M305.9,229.4l3.8,7.2M325.8,229.4l3.8,7.2M342.1,229.4l1.9,3.6M343.3,229.4l-1.9,-3.6M461.6,229.4l1.9,3.6M501.5,229.4l1.9,3.6M521.4,229.4l1.9,3.6M541.3,229.4l1.9,3.6M582.3,229.4l-1.9,-3.6M602.2,229.4l-1.9,-3.6M622.1,229.4l-1.9,-3.6M642.0,229.4l-1.9,-3.6M661.9,229.4l-1.9,-3.6M681.9,229.4l-1.9,-3.6M701.8,229.4l-1.9,-3.6M721.7,229.4l-1.9,-3.6M761.5,229.4l-1.9,-3.6M781.4,229.4l-1.9,-3.6M820.1,229.4l1.9,3.6M840.1,229.4l1.9,3.6M860.0,229.4l1.9,3.6M879.9,229.4l1.9,3.6M166.5,245.3l3.8,7.2M186.4,245.3l3.8,7.2M206.3,245.3l3.8,7.2M226.2,245.3l3.8,7.2M246.2,245.3l3.8,7.2M266.1,245.3l3.8,7.2M286.0,245.3l3.8,7.2M305.9,245.3l3.8,7.2M325.8,245.3l3.8,7.2M342.1,245.3l1.9,3.6M343.3,245.3l-1.9,-3.6M461.6,245.3l1.9,3.6M501.5,245.3l1.9,3.6M521.4,245.3l1.9,3.6M541.3,245.3l1.9,3.6M562.4,245.3l-1.9,-3.6M582.3,245.3l-1.9,-3.6M602.2,245.3l-1.9,-3.6M622.1,245.3l-1.9,-3.6M642.0,245.3l-1.9,-3.6M661.9,245.3l-1.9,-3.6M681.9,245.3l-1.9,-3.6M701.8,245.3l-1.9,-3.6M721.7,245.3l-1.9,-3.6M761.5,245.3l-1.9,-3.6M781.4,245.3l-1.9,-3.6M820.1,245.3l1.9,3.6M840.1,245.3l1.9,3.6M860.0,245.3l1.9,3.6M879.9,245.3l1.9,3.6M166.5,261.2l3.8,7.2M186.4,261.2l3.8,7.2M206.3,261.2l3.8,7.2M226.2,261.2l3.8,7.2M246.2,261.2l3.8,7.2M266.1,261.2l3.8,7.2M286.0,261.2l3.8,7.2M305.9,261.2l3.8,7.2M325.8,261.2l3.8,7.2M342.1,261.2l1.9,3.6M343.3,261.2l-1.9,-3.6M461.6,261.2l1.9,3.6M501.5,261.2l1.9,3.6M521.4,261.2l1.9,3.6M541.3,261.2l1.9,3.6M562.4,261.2l-1.9,-3.6M582.3,261.2l-1.9,-3.6M602.2,261.2l-1.9,-3.6M622.1,261.2l-1.9,-3.6M642.0,261.2l-1.9,-3.6M661.9,261.2l-1.9,-3.6M681.9,261.2l-1.9,-3.6M701.8,261.2l-1.9,-3.6M721.7,261.2l-1.9,-3.6M761.5,261.2l-1.9,-3.6M781.4,261.2l-1.9,-3.6M820.1,261.2l1.9,3.6M840.1,261.2l1.9,3.6M860.0,261.2l1.9,3.6M879.9,261.2l1.9,3.6M166.5,277.1l3.8,7.2M162.9,277.1l1.9,3.6M186.4,277.1l3.8,7.2M182.8,277.1l1.9,3.6M206.3,277.1l3.8,7.2M202.7,277.1l1.9,3.6M226.2,277.1l3.8,7.2M222.7,277.1l1.9,3.6M246.2,277.1l3.8,7.2M242.6,277.1l1.9,3.6M266.1,277.1l3.8,7.2M262.5,277.1l1.9,3.6M286.0,277.1l3.8,7.2M282.4,277.1l1.9,3.6M305.9,277.1l3.8,7.2M302.3,277.1l1.9,3.6M325.8,277.1l3.8,7.2M322.2,277.1l1.9,3.6M342.1,277.1l1.9,3.6M362.1,277.1l1.9,3.6M382.0,277.1l1.9,3.6M401.9,277.1l1.9,3.6M501.5,277.1l1.9,3.6M541.3,277.1l1.9,3.6M582.3,277.1l-1.9,-3.6M602.2,277.1l-1.9,-3.6M622.1,277.1l-1.9,-3.6M642.0,277.1l-1.9,-3.6M661.9,277.1l-1.9,-3.6M681.9,277.1l-1.9,-3.6M701.8,277.1l-1.9,-3.6M721.7,277.1l-1.9,-3.6M761.5,277.1l-1.9,-3.6M781.4,277.1l-1.9,-3.6M820.1,277.1l1.9,3.6M840.1,277.1l1.9,3.6M860.0,277.1l1.9,3.6M879.9,277.1l1.9,3.6M166.5,293.0l3.8,7.2M162.9,293.0l1.9,3.6M186.4,293.0l3.8,7.2M182.8,293.0l1.9,3.6M206.3,293.0l3.8,7.2M202.7,293.0l1.9,3.6M226.2,293.0l3.8,7.2M222.7,293.0l1.9,3.6M246.2,293.0l3.8,7.2M242.6,293.0l1.9,3.6M266.1,293.0l3.8,7.2M262.5,293.0l1.9,3.6M286.0,293.0l3.8,7.2M282.4,293.0l1.9,3.6M305.9,293.0l3.8,7.2M302.3,293.0l1.9,3.6M325.8,293.0l3.8,7.2M322.2,293.0l1.9,3.6M342.1,293.0l1.9,3.6M362.1,293.0l1.9,3.6M382.0,293.0l1.9,3.6M401.9,293.0l1.9,3.6M501.5,293.0l1.9,3.6M541.3,293.0l1.9,3.6M582.3,293.0l-1.9,-3.6M602.2,293.0l-1.9,-3.6M622.1,293.0l-1.9,-3.6M642.0,293.0l-1.9,-3.6M661.9,293.0l-1.9,-3.6M681.9,293.0l-1.9,-3.6M701.8,293.0l-1.9,-3.6M721.7,293.0l-1.9,-3.6M761.5,293.0l-1.9,-3.6M781.4,293.0l-1.9,-3.6M820.1,293.0l1.9,3.6M840.1,293.0l1.9,3.6M860.0,293.0l1.9,3.6M879.9,293.0l1.9,3.6M166.5,308.9l3.8,7.2M162.9,308.9l1.9,3.6M186.4,308.9l3.8,7.2M182.8,308.9l1.9,3.6M206.3,308.9l3.8,7.2M202.7,308.9l1.9,3.6M226.2,308.9l3.8,7.2M222.7,308.9l1.9,3.6M246.2,308.9l3.8,7.2M242.6,308.9l1.9,3.6M266.1,308.9l3.8,7.2M262.5,308.9l1.9,3.6M286.0,308.9l3.8,7.2M282.4,308.9l1.9,3.6M305.9,308.9l3.8,7.2M302.3,308.9l1.9,3.6M325.8,308.9l3.8,7.2M322.2,308.9l1.9,3.6M342.1,308.9l1.9,3.6M362.1,308.9l1.9,3.6M382.0,308.9l1.9,3.6M401.9,308.9l1.9,3.6M501.5,308.9l1.9,3.6M541.3,308.9l1.9,3.6M582.3,308.9l-1.9,-3.6M602.2,308.9l-1.9,-3.6M622.1,308.9l-1.9,-3.6M642.0,308.9l-1.9,-3.6M661.9,308.9l-1.9,-3.6M681.9,308.9l-1.9,-3.6M701.8,308.9l-1.9,-3.6M721.7,308.9l-1.9,-3.6M761.5,308.9l-1.9,-3.6M781.4,308.9l-1.9,-3.6M820.1,308.9l1.9,3.6M840.1,308.9l1.9,3.6M860.0,308.9l1.9,3.6M879.9,308.9l1.9,3.6M166.5,324.8l3.8,7.2M162.9,324.8l1.9,3.6M186.4,324.8l3.8,7.2M182.8,324.8l1.9,3.6M206.3,324.8l3.8,7.2M202.7,324.8l1.9,3.6M226.2,324.8l3.8,7.2M222.7,324.8l1.9,3.6M246.2,324.8l3.8,7.2M242.6,324.8l1.9,3.6M266.1,324.8l3.8,7.2M262.5,324.8l1.9,3.6M286.0,324.8l3.8,7.2M282.4,324.8l1.9,3.6M305.9,324.8l3.8,7.2M302.3,324.8l1.9,3.6M325.8,324.8l3.8,7.2M322.2,324.8l1.9,3.6M342.1,324.8l1.9,3.6M362.1,324.8l1.9,3.6M382.0,324.8l1.9,3.6M401.9,324.8l1.9,3.6M501.5,324.8l1.9,3.6M541.3,324.8l1.9,3.6M582.3,324.8l-1.9,-3.6M602.2,324.8l-1.9,-3.6M622.1,324.8l-1.9,-3.6M642.0,324.8l-1.9,-3.6M661.9,324.8l-1.9,-3.6M681.9,324.8l-1.9,-3.6M701.8,324.8l-1.9,-3.6M721.7,324.8l-1.9,-3.6M761.5,324.8l-1.9,-3.6M781.4,324.8l-1.9,-3.6M820.1,324.8l1.9,3.6M840.1,324.8l1.9,3.6M860.0,324.8l1.9,3.6M879.9,324.8l1.9,3.6M166.5,340.7l3.8,7.2M162.9,340.7l1.9,3.6M186.4,340.7l3.8,7.2M182.8,340.7l1.9,3.6M206.3,340.7l3.8,7.2M202.7,340.7l1.9,3.6M226.2,340.7l3.8,7.2M222.7,340.7l1.9,3.6M246.2,340.7l3.8,7.2M242.6,340.7l1.9,3.6M266.1,340.7l3.8,7.2M262.5,340.7l1.9,3.6M286.0,340.7l3.8,7.2M282.4,340.7l1.9,3.6M305.9,340.7l3.8,7.2M302.3,340.7l1.9,3.6M325.8,340.7l3.8,7.2M322.2,340.7l1.9,3.6M342.1,340.7l1.9,3.6M362.1,340.7l1.9,3.6M385.6,340.7l3.8,7.2M383.1,340.7l-1.9,-3.6M461.6,340.7l1.9,3.6M481.6,340.7l1.9,3.6M501.5,340.7l1.9,3.6M541.3,340.7l1.9,3.6M562.4,340.7l-1.9,-3.6M582.3,340.7l-1.9,-3.6M602.2,340.7l-1.9,-3.6M622.1,340.7l-1.9,-3.6M661.9,340.7l-1.9,-3.6M681.9,340.7l-1.9,-3.6M701.8,340.7l-1.9,-3.6M721.7,340.7l-1.9,-3.6M761.5,340.7l-1.9,-3.6M781.4,340.7l-1.9,-3.6M820.1,340.7l1.9,3.6M840.1,340.7l1.9,3.6M860.0,340.7l1.9,3.6M879.9,340.7l1.9,3.6M166.5,356.6l3.8,7.2M162.9,356.6l1.9,3.6M186.4,356.6l3.8,7.2M182.8,356.6l1.9,3.6M206.3,356.6l3.8,7.2M202.7,356.6l1.9,3.6M226.2,356.6l3.8,7.2M222.7,356.6l1.9,3.6M246.2,356.6l3.8,7.2M242.6,356.6l1.9,3.6M266.1,356.6l3.8,7.2M262.5,356.6l1.9,3.6M286.0,356.6l3.8,7.2M282.4,356.6l1.9,3.6M305.9,356.6l3.8,7.2M302.3,356.6l1.9,3.6M325.8,356.6l3.8,7.2M322.2,356.6l1.9,3.6M342.1,356.6l1.9,3.6M362.1,356.6l1.9,3.6M385.6,356.6l3.8,7.2M383.1,356.6l-1.9,-3.6M461.6,356.6l1.9,3.6M481.6,356.6l1.9,3.6M501.5,356.6l1.9,3.6M544.9,356.6l3.8,7.2M562.4,356.6l-1.9,-3.6M582.3,356.6l-1.9,-3.6M602.2,356.6l-1.9,-3.6M660.7,355.3l2.4,3.3M661.9,356.6l-1.9,-3.6M681.9,356.6l-1.9,-3.6M701.8,356.6l-1.9,-3.6M721.7,356.6l-1.9,-3.6M761.5,356.6l-1.9,-3.6M781.4,356.6l-1.9,-3.6M820.1,356.6l1.9,3.6M840.1,356.6l1.9,3.6M860.0,356.6l1.9,3.6M879.9,356.6l1.9,3.6M166.5,372.5l3.8,7.2M162.9,372.5l1.9,3.6M186.4,372.5l3.8,7.2M182.8,372.5l1.9,3.6M206.3,372.5l3.8,7.2M202.7,372.5l1.9,3.6M226.2,372.5l3.8,7.2M222.7,372.5l1.9,3.6M246.2,372.5l3.8,7.2M242.6,372.5l1.9,3.6M266.1,372.5l3.8,7.2M262.5,372.5l1.9,3.6M286.0,372.5l3.8,7.2M282.4,372.5l1.9,3.6M305.9,372.5l3.8,7.2M302.3,372.5l1.9,3.6M325.8,372.5l3.8,7.2M322.2,372.5l1.9,3.6M342.1,372.5l1.9,3.6M362.1,372.5l1.9,3.6M385.6,372.5l3.8,7.2M383.1,372.5l-1.9,-3.6M461.6,372.5l1.9,3.6M481.6,372.5l1.9,3.6M501.5,372.5l1.9,3.6M544.9,372.5l3.8,7.2M562.4,372.5l-1.9,-3.6M582.3,372.5l-1.9,-3.6M602.2,372.5l-1.9,-3.6M660.7,371.2l2.4,3.3M661.9,372.5l-1.9,-3.6M681.9,372.5l-1.9,-3.6M701.8,372.5l-1.9,-3.6M721.7,372.5l-1.9,-3.6M761.5,372.5l-1.9,-3.6M781.4,372.5l-1.9,-3.6M820.1,372.5l1.9,3.6M840.1,372.5l1.9,3.6M860.0,372.5l1.9,3.6M879.9,372.5l1.9,3.6M166.5,388.4l3.8,7.2M162.9,388.4l1.9,3.6M186.4,388.4l3.8,7.2M182.8,388.4l1.9,3.6M206.3,388.4l3.8,7.2M202.7,388.4l1.9,3.6M226.2,388.4l3.8,7.2M222.7,388.4l1.9,3.6M246.2,388.4l3.8,7.2M242.6,388.4l1.9,3.6M266.1,388.4l3.8,7.2M262.5,388.4l1.9,3.6M286.0,388.4l3.8,7.2M282.4,388.4l1.9,3.6M305.9,388.4l3.8,7.2M302.3,388.4l1.9,3.6M325.8,388.4l3.8,7.2M322.2,388.4l1.9,3.6M342.1,388.4l1.9,3.6M362.1,388.4l1.9,3.6M385.6,388.4l3.8,7.2M383.1,388.4l-1.9,-3.6M461.6,388.4l1.9,3.6M481.6,388.4l1.9,3.6M501.5,388.4l1.9,3.6M544.9,388.4l3.8,7.2M562.4,388.4l-1.9,-3.6M582.3,388.4l-1.9,-3.6M642.0,388.4l-1.9,-3.6M661.9,388.4l-1.9,-3.6M681.9,388.4l-1.9,-3.6M701.8,388.4l-1.9,-3.6M721.7,388.4l-1.9,-3.6M741.6,388.4l-1.9,-3.6M761.5,388.4l-1.9,-3.6M781.4,388.4l-1.9,-3.6M820.1,388.4l1.9,3.6M840.1,388.4l1.9,3.6M860.0,388.4l1.9,3.6M883.5,388.4l3.8,7.2M166.5,404.3l3.8,7.2M162.9,404.3l1.9,3.6M186.4,404.3l3.8,7.2M182.8,404.3l1.9,3.6M206.3,404.3l3.8,7.2M202.7,404.3l1.9,3.6M226.2,404.3l3.8,7.2M222.7,404.3l1.9,3.6M246.2,404.3l3.8,7.2M242.6,404.3l1.9,3.6M266.1,404.3l3.8,7.2M262.5,404.3l1.9,3.6M286.0,404.3l3.8,7.2M282.4,404.3l1.9,3.6M305.9,404.3l3.8,7.2M302.3,404.3l1.9,3.6M325.8,404.3l3.8,7.2M322.2,404.3l1.9,3.6M345.8,404.3l3.8,7.2M365.7,404.3l3.8,7.2M385.6,404.3l3.8,7.2M383.1,404.3l-1.9,-3.6M461.6,404.3l1.9,3.6M481.6,404.3l1.9,3.6M501.5,404.3l1.9,3.6M544.9,404.3l3.8,7.2M562.4,404.3l-1.9,-3.6M582.3,404.3l-1.9,-3.6M642.0,404.3l-1.9,-3.6M661.9,404.3l-1.9,-3.6M681.9,404.3l-1.9,-3.6M701.8,404.3l-1.9,-3.6M721.7,404.3l-1.9,-3.6M741.6,404.3l-1.9,-3.6M761.5,404.3l-1.9,-3.6M820.1,404.3l1.9,3.6M840.1,404.3l1.9,3.6M860.0,404.3l1.9,3.6M883.5,404.3l3.8,7.2M166.5,420.2l3.8,7.2M162.9,420.2l1.9,3.6M186.4,420.2l3.8,7.2M182.8,420.2l1.9,3.6M206.3,420.2l3.8,7.2M202.7,420.2l1.9,3.6M226.2,420.2l3.8,7.2M222.7,420.2l1.9,3.6M246.2,420.2l3.8,7.2M242.6,420.2l1.9,3.6M266.1,420.2l3.8,7.2M262.5,420.2l1.9,3.6M286.0,420.2l3.8,7.2M282.4,420.2l1.9,3.6M305.9,420.2l3.8,7.2M302.3,420.2l1.9,3.6M325.8,420.2l3.8,7.2M322.2,420.2l1.9,3.6M345.8,420.2l3.8,7.2M365.7,420.2l3.8,7.2M385.6,420.2l3.8,7.2M401.9,420.2l1.9,3.6M461.6,420.2l1.9,3.6M481.6,420.2l1.9,3.6M501.5,420.2l1.9,3.6M544.9,420.2l3.8,7.2M562.4,420.2l-1.9,-3.6M582.3,420.2l-1.9,-3.6M602.2,420.2l-1.9,-3.6M622.1,420.2l-1.9,-3.6M642.0,420.2l-1.9,-3.6M661.9,420.2l-1.9,-3.6M681.9,420.2l-1.9,-3.6M701.8,420.2l-1.9,-3.6M741.6,420.2l-1.9,-3.6M761.5,420.2l-1.9,-3.6M781.4,420.2l-1.9,-3.6M820.1,420.2l1.9,3.6M840.1,420.2l1.9,3.6M860.0,420.2l1.9,3.6M883.5,420.2l3.8,7.2M166.5,436.1l3.8,7.2M162.9,436.1l1.9,3.6M186.4,436.1l3.8,7.2M182.8,436.1l1.9,3.6M206.3,436.1l3.8,7.2M202.7,436.1l1.9,3.6M226.2,436.1l3.8,7.2M222.7,436.1l1.9,3.6M246.2,436.1l3.8,7.2M242.6,436.1l1.9,3.6M266.1,436.1l3.8,7.2M262.5,436.1l1.9,3.6M286.0,436.1l3.8,7.2M282.4,436.1l1.9,3.6M305.9,436.1l3.8,7.2M302.3,436.1l1.9,3.6M325.8,436.1l3.8,7.2M322.2,436.1l1.9,3.6M345.8,436.1l3.8,7.2M365.7,436.1l3.8,7.2M385.6,436.1l3.8,7.2M401.9,436.1l1.9,3.6M461.6,436.1l1.9,3.6M481.6,436.1l1.9,3.6M501.5,436.1l1.9,3.6M544.9,436.1l3.8,7.2M562.4,436.1l-1.9,-3.6M582.3,436.1l-1.9,-3.6M602.2,436.1l-1.9,-3.6M622.1,436.1l-1.9,-3.6M642.0,436.1l-1.9,-3.6M661.9,436.1l-1.9,-3.6M681.9,436.1l-1.9,-3.6M701.8,436.1l-1.9,-3.6M721.7,436.1l-1.9,-3.6M741.6,436.1l-1.9,-3.6M761.5,436.1l-1.9,-3.6M781.4,436.1l-1.9,-3.6M823.8,436.1l3.8,7.2M843.7,436.1l3.8,7.2M863.6,436.1l3.8,7.2M883.5,436.1l3.8,7.2M879.9,436.1l1.9,3.6M166.5,452.0l3.8,7.2M162.9,452.0l1.9,3.6M186.4,452.0l3.8,7.2M182.8,452.0l1.9,3.6M206.3,452.0l3.8,7.2M202.7,452.0l1.9,3.6M226.2,452.0l3.8,7.2M222.7,452.0l1.9,3.6M246.2,452.0l3.8,7.2M242.6,452.0l1.9,3.6M266.1,452.0l3.8,7.2M262.5,452.0l1.9,3.6M286.0,452.0l3.8,7.2M282.4,452.0l1.9,3.6M305.9,452.0l3.8,7.2M302.3,452.0l1.9,3.6M325.8,452.0l3.8,7.2M322.2,452.0l1.9,3.6M345.8,452.0l3.8,7.2M365.7,452.0l3.8,7.2M385.6,452.0l3.8,7.2M401.9,452.0l1.9,3.6M461.6,452.0l1.9,3.6M481.6,452.0l1.9,3.6M501.5,452.0l1.9,3.6M544.9,452.0l3.8,7.2M582.3,452.0l-1.9,-3.6M621.0,452.0l1.9,3.6M640.9,452.0l1.9,3.6M660.8,452.0l1.9,3.6M680.7,452.0l1.9,3.6M701.8,452.0l-1.9,-3.6M721.7,452.0l-1.9,-3.6M741.6,452.0l-1.9,-3.6M783.9,452.0l3.8,7.2M803.8,452.0l3.8,7.2M823.8,452.0l3.8,7.2M843.7,452.0l3.8,7.2M863.6,452.0l3.8,7.2M883.5,452.0l3.8,7.2M879.9,452.0l1.9,3.6M166.5,467.9l3.8,7.2M162.9,467.9l1.9,3.6M186.4,467.9l3.8,7.2M182.8,467.9l1.9,3.6M206.3,467.9l3.8,7.2M202.7,467.9l1.9,3.6M226.2,467.9l3.8,7.2M222.7,467.9l1.9,3.6M246.2,467.9l3.8,7.2M242.6,467.9l1.9,3.6M266.1,467.9l3.8,7.2M262.5,467.9l1.9,3.6M286.0,467.9l3.8,7.2M282.4,467.9l1.9,3.6M305.9,467.9l3.8,7.2M302.3,467.9l1.9,3.6M325.8,467.9l3.8,7.2M322.2,467.9l1.9,3.6M345.8,467.9l3.8,7.2M365.7,467.9l3.8,7.2M385.6,467.9l3.8,7.2M401.9,467.9l1.9,3.6M422.9,467.9l-1.9,-3.6M461.6,467.9l1.9,3.6M481.6,467.9l1.9,3.6M501.5,467.9l1.9,3.6M544.9,467.9l3.8,7.2M582.3,467.9l-1.9,-3.6M621.0,467.9l1.9,3.6M640.9,467.9l1.9,3.6M660.8,467.9l1.9,3.6M680.7,467.9l1.9,3.6M699.7,463.8l3.3,2.4M701.8,467.9l-1.9,-3.6M721.7,467.9l-1.9,-3.6M741.6,467.9l-1.9,-3.6M783.9,467.9l3.8,7.2M803.8,467.9l3.8,7.2M823.8,467.9l3.8,7.2M843.7,467.9l3.8,7.2M863.6,467.9l3.8,7.2M883.5,467.9l3.8,7.2M879.9,467.9l1.9,3.6M166.5,483.8l3.8,7.2M162.9,483.8l1.9,3.6M186.4,483.8l3.8,7.2M182.8,483.8l1.9,3.6M206.3,483.8l3.8,7.2M202.7,483.8l1.9,3.6M226.2,483.8l3.8,7.2M222.7,483.8l1.9,3.6M246.2,483.8l3.8,7.2M242.6,483.8l1.9,3.6M266.1,483.8l3.8,7.2M262.5,483.8l1.9,3.6M286.0,483.8l3.8,7.2M282.4,483.8l1.9,3.6M305.9,483.8l3.8,7.2M302.3,483.8l1.9,3.6M325.8,483.8l3.8,7.2M322.2,483.8l1.9,3.6M345.8,483.8l3.8,7.2M365.7,483.8l3.8,7.2M385.6,483.8l3.8,7.2M401.9,483.8l1.9,3.6M422.9,483.8l-1.9,-3.6M461.6,483.8l1.9,3.6M481.6,483.8l1.9,3.6M501.5,483.8l1.9,3.6M544.9,483.8l3.8,7.2M541.3,483.8l1.9,3.6M582.3,483.8l-1.9,-3.6M621.0,483.8l1.9,3.6M640.9,483.8l1.9,3.6M660.8,483.8l1.9,3.6M680.7,483.8l1.9,3.6M681.9,483.8l-1.9,-3.6M701.8,483.8l-1.9,-3.6M721.7,483.8l-1.9,-3.6M741.6,483.8l-1.9,-3.6M783.9,483.8l3.8,7.2M803.8,483.8l3.8,7.2M823.8,483.8l3.8,7.2M843.7,483.8l3.8,7.2M863.6,483.8l3.8,7.2M883.5,483.8l3.8,7.2M879.9,483.8l1.9,3.6M166.5,499.7l3.8,7.2M162.9,499.7l1.9,3.6M186.4,499.7l3.8,7.2M182.8,499.7l1.9,3.6M206.3,499.7l3.8,7.2M202.7,499.7l1.9,3.6M226.2,499.7l3.8,7.2M222.7,499.7l1.9,3.6M246.2,499.7l3.8,7.2M242.6,499.7l1.9,3.6M266.1,499.7l3.8,7.2M262.5,499.7l1.9,3.6M286.0,499.7l3.8,7.2M282.4,499.7l1.9,3.6M305.9,499.7l3.8,7.2M302.3,499.7l1.9,3.6M325.8,499.7l3.8,7.2M322.2,499.7l1.9,3.6M345.8,499.7l3.8,7.2M365.7,499.7l3.8,7.2M385.6,499.7l3.8,7.2M401.9,499.7l1.9,3.6M422.9,499.7l-1.9,-3.6M461.6,499.7l1.9,3.6M481.6,499.7l1.9,3.6M501.5,499.7l1.9,3.6M544.9,499.7l3.8,7.2M541.3,499.7l1.9,3.6M582.3,499.7l-1.9,-3.6M621.0,499.7l1.9,3.6M640.9,499.7l1.9,3.6M660.8,499.7l1.9,3.6M680.7,499.7l1.9,3.6M681.9,499.7l-1.9,-3.6M701.8,499.7l-1.9,-3.6M721.7,499.7l-1.9,-3.6M741.6,499.7l-1.9,-3.6M783.9,499.7l3.8,7.2M803.8,499.7l3.8,7.2M823.8,499.7l3.8,7.2M843.7,499.7l3.8,7.2M863.6,499.7l3.8,7.2M883.5,499.7l3.8,7.2M879.9,499.7l1.9,3.6M166.5,515.6l3.8,7.2M162.9,515.6l1.9,3.6M186.4,515.6l3.8,7.2M182.8,515.6l1.9,3.6M206.3,515.6l3.8,7.2M202.7,515.6l1.9,3.6M226.2,515.6l3.8,7.2M222.7,515.6l1.9,3.6M246.2,515.6l3.8,7.2M242.6,515.6l1.9,3.6M266.1,515.6l3.8,7.2M262.5,515.6l1.9,3.6M286.0,515.6l3.8,7.2M282.4,515.6l1.9,3.6M305.9,515.6l3.8,7.2M302.3,515.6l1.9,3.6M325.8,515.6l3.8,7.2M322.2,515.6l1.9,3.6M345.8,515.6l3.8,7.2M365.7,515.6l3.8,7.2M385.6,515.6l3.8,7.2M401.9,515.6l1.9,3.6M422.9,515.6l-1.9,-3.6M461.6,515.6l1.9,3.6M481.6,515.6l1.9,3.6M501.5,515.6l1.9,3.6M544.9,515.6l3.8,7.2M541.3,515.6l1.9,3.6M582.3,515.6l-1.9,-3.6M621.0,515.6l1.9,3.6M640.9,515.6l1.9,3.6M660.8,515.6l1.9,3.6M680.7,515.6l1.9,3.6M681.9,515.6l-1.9,-3.6M701.8,515.6l-1.9,-3.6M721.7,515.6l-1.9,-3.6M741.6,515.6l-1.9,-3.6M783.9,515.6l3.8,7.2M803.8,515.6l3.8,7.2M823.8,515.6l3.8,7.2M843.7,515.6l3.8,7.2M863.6,515.6l3.8,7.2M883.5,515.6l3.8,7.2M879.9,515.6l1.9,3.6M166.5,531.5l3.8,7.2M162.9,531.5l1.9,3.6M186.4,531.5l3.8,7.2M182.8,531.5l1.9,3.6M206.3,531.5l3.8,7.2M202.7,531.5l1.9,3.6M226.2,531.5l3.8,7.2M222.7,531.5l1.9,3.6M246.2,531.5l3.8,7.2M242.6,531.5l1.9,3.6M266.1,531.5l3.8,7.2M262.5,531.5l1.9,3.6M286.0,531.5l3.8,7.2M282.4,531.5l1.9,3.6M305.9,531.5l3.8,7.2M302.3,531.5l1.9,3.6M325.8,531.5l3.8,7.2M322.2,531.5l1.9,3.6M345.8,531.5l3.8,7.2M365.7,531.5l3.8,7.2M385.6,531.5l3.8,7.2M401.9,531.5l1.9,3.6M422.9,531.5l-1.9,-3.6M461.6,531.5l1.9,3.6M481.6,531.5l1.9,3.6M501.5,531.5l1.9,3.6M544.9,531.5l3.8,7.2M541.3,531.5l1.9,3.6M582.3,531.5l-1.9,-3.6M621.0,531.5l1.9,3.6M640.9,531.5l1.9,3.6M660.8,531.5l1.9,3.6M680.7,531.5l1.9,3.6M681.9,531.5l-1.9,-3.6M701.8,531.5l-1.9,-3.6M721.7,531.5l-1.9,-3.6M741.6,531.5l-1.9,-3.6M783.9,531.5l3.8,7.2M803.8,531.5l3.8,7.2M823.8,531.5l3.8,7.2M843.7,531.5l3.8,7.2M863.6,531.5l3.8,7.2M883.5,531.5l3.8,7.2M879.9,531.5l1.9,3.6M166.5,547.4l3.8,7.2M162.9,547.4l1.9,3.6M186.4,547.4l3.8,7.2M182.8,547.4l1.9,3.6M206.3,547.4l3.8,7.2M202.7,547.4l1.9,3.6M226.2,547.4l3.8,7.2M222.7,547.4l1.9,3.6M246.2,547.4l3.8,7.2M242.6,547.4l1.9,3.6M266.1,547.4l3.8,7.2M262.5,547.4l1.9,3.6M286.0,547.4l3.8,7.2M282.4,547.4l1.9,3.6M305.9,547.4l3.8,7.2M302.3,547.4l1.9,3.6M325.8,547.4l3.8,7.2M322.2,547.4l1.9,3.6M345.8,547.4l3.8,7.2M365.7,547.4l3.8,7.2M385.6,547.4l3.8,7.2M401.9,547.4l1.9,3.6M422.9,547.4l-1.9,-3.6M461.6,547.4l1.9,3.6M481.6,547.4l1.9,3.6M501.5,547.4l1.9,3.6M544.9,547.4l3.8,7.2M541.3,547.4l1.9,3.6M582.3,547.4l-1.9,-3.6M621.0,547.4l1.9,3.6M640.9,547.4l1.9,3.6M660.8,547.4l1.9,3.6M680.7,547.4l1.9,3.6M681.9,547.4l-1.9,-3.6M701.8,547.4l-1.9,-3.6M721.7,547.4l-1.9,-3.6M741.6,547.4l-1.9,-3.6M783.9,547.4l3.8,7.2M803.8,547.4l3.8,7.2M823.8,547.4l3.8,7.2M843.7,547.4l3.8,7.2M863.6,547.4l3.8,7.2M883.5,547.4l3.8,7.2M879.9,547.4l1.9,3.6M166.5,563.3l3.8,7.2M162.9,563.3l1.9,3.6M186.4,563.3l3.8,7.2M182.8,563.3l1.9,3.6M206.3,563.3l3.8,7.2M202.7,563.3l1.9,3.6M226.2,563.3l3.8,7.2M222.7,563.3l1.9,3.6M246.2,563.3l3.8,7.2M242.6,563.3l1.9,3.6M266.1,563.3l3.8,7.2M262.5,563.3l1.9,3.6M286.0,563.3l3.8,7.2M282.4,563.3l1.9,3.6M305.9,563.3l3.8,7.2M302.3,563.3l1.9,3.6M325.8,563.3l3.8,7.2M322.2,563.3l1.9,3.6M345.8,563.3l3.8,7.2M365.7,563.3l3.8,7.2M385.6,563.3l3.8,7.2M401.9,563.3l1.9,3.6M422.9,563.3l-1.9,-3.6M461.6,563.3l1.9,3.6M481.6,563.3l1.9,3.6M501.5,563.3l1.9,3.6M544.9,563.3l3.8,7.2M541.3,563.3l1.9,3.6M582.3,563.3l-1.9,-3.6M621.0,563.3l1.9,3.6M640.9,563.3l1.9,3.6M660.8,563.3l1.9,3.6M680.7,563.3l1.9,3.6M681.9,563.3l-1.9,-3.6M701.8,563.3l-1.9,-3.6M721.7,563.3l-1.9,-3.6M741.6,563.3l-1.9,-3.6M783.9,563.3l3.8,7.2M803.8,563.3l3.8,7.2M823.8,563.3l3.8,7.2M843.7,563.3l3.8,7.2M863.6,563.3l3.8,7.2M883.5,563.3l3.8,7.2M879.9,563.3l1.9,3.6" stroke="#520f88" stroke-width="0.85" fill="none" stroke-opacity="0.65"/>
<circle cx="432.3" cy="102.2" r="4.0" fill="none" stroke="#520f88" stroke-width="0.8" stroke-opacity="0.7"/>
<line x1="432.3" y1="102.2" x2="436.3" y2="102.2" stroke="#520f88" stroke-width="0.8" stroke-opacity="0.6"/>
<circle cx="571.8" cy="213.5" r="4.0" fill="none" stroke="#520f88" stroke-width="0.8" stroke-opacity="0.7"/>
<line x1="571.8" y1="213.5" x2="575.8" y2="213.5" stroke="#520f88" stroke-width="0.8" stroke-opacity="0.6"/>
<circle cx="571.8" cy="229.4" r="4.0" fill="none" stroke="#520f88" stroke-width="0.8" stroke-opacity="0.7"/>
<line x1="571.8" y1="229.4" x2="575.8" y2="229.4" stroke="#520f88" stroke-width="0.8" stroke-opacity="0.6"/>
<circle cx="611.6" cy="388.4" r="4.0" fill="none" stroke="#520f88" stroke-width="0.8" stroke-opacity="0.7"/>
<line x1="611.6" y1="388.4" x2="615.6" y2="388.4" stroke="#520f88" stroke-width="0.8" stroke-opacity="0.6"/>
<circle cx="611.6" cy="404.3" r="4.0" fill="none" stroke="#520f88" stroke-width="0.8" stroke-opacity="0.7"/>
<line x1="611.6" y1="404.3" x2="615.6" y2="404.3" stroke="#520f88" stroke-width="0.8" stroke-opacity="0.6"/>
<circle cx="571.8" cy="515.6" r="4.0" fill="none" stroke="#520f88" stroke-width="0.8" stroke-opacity="0.7"/>
<line x1="571.8" y1="515.6" x2="575.8" y2="515.6" stroke="#520f88" stroke-width="0.8" stroke-opacity="0.6"/>
<circle cx="571.8" cy="531.5" r="4.0" fill="none" stroke="#520f88" stroke-width="0.8" stroke-opacity="0.7"/>
<line x1="571.8" y1="531.5" x2="575.8" y2="531.5" stroke="#520f88" stroke-width="0.8" stroke-opacity="0.6"/>
<circle cx="571.8" cy="547.4" r="4.0" fill="none" stroke="#520f88" stroke-width="0.8" stroke-opacity="0.7"/>
<line x1="571.8" y1="547.4" x2="575.8" y2="547.4" stroke="#520f88" stroke-width="0.8" stroke-opacity="0.6"/>
<circle cx="571.8" cy="563.3" r="4.0" fill="none" stroke="#520f88" stroke-width="0.8" stroke-opacity="0.7"/>
<line x1="571.8" y1="563.3" x2="575.8" y2="563.3" stroke="#520f88" stroke-width="0.8" stroke-opacity="0.6"/>
</g>
<line x1="193.33" y1="563.3" x2="193.33" y2="547.3" stroke="#520f88" stroke-width="1.2"/>
<line x1="233.17" y1="563.3" x2="233.17" y2="547.3" stroke="#520f88" stroke-width="1.2"/>
<line x1="273.00" y1="563.3" x2="273.00" y2="547.3" stroke="#520f88" stroke-width="1.2"/>
<line x1="312.83" y1="563.3" x2="312.83" y2="547.3" stroke="#520f88" stroke-width="1.2"/>
<line x1="352.67" y1="563.3" x2="352.67" y2="547.3" stroke="#520f88" stroke-width="1.2"/>
<line x1="392.50" y1="563.3" x2="392.50" y2="547.3" stroke="#520f88" stroke-width="1.2"/>
<line x1="432.33" y1="563.3" x2="432.33" y2="547.3" stroke="#520f88" stroke-width="1.2"/>
<line x1="472.17" y1="563.3" x2="472.17" y2="547.3" stroke="#520f88" stroke-width="1.2"/>
<line x1="512.00" y1="563.3" x2="512.00" y2="547.3" stroke="#520f88" stroke-width="1.2"/>
<line x1="551.83" y1="563.3" x2="551.83" y2="547.3" stroke="#520f88" stroke-width="1.2"/>
<line x1="591.67" y1="563.3" x2="591.67" y2="547.3" stroke="#520f88" stroke-width="1.2"/>
<line x1="631.50" y1="563.3" x2="631.50" y2="547.3" stroke="#520f88" stroke-width="1.2"/>
<line x1="671.33" y1="563.3" x2="671.33" y2="547.3" stroke="#520f88" stroke-width="1.2"/>
<line x1="711.17" y1="563.3" x2="711.17" y2="547.3" stroke="#520f88" stroke-width="1.2"/>
<line x1="751.00" y1="563.3" x2="751.00" y2="547.3" stroke="#520f88" stroke-width="1.2"/>
<line x1="790.83" y1="563.3" x2="790.83" y2="547.3" stroke="#520f88" stroke-width="1.2"/>
<line x1="830.67" y1="563.3" x2="830.67" y2="547.3" stroke="#520f88" stroke-width="1.2"/>
<rect x="153.5" y="102.2" width="717.0" height="461.09999999999997" fill="none" stroke="#520f88" stroke-width="1.25"/>
<text transform="translate(145.60,106.10) scale(1.0,1.05)" font-size="10.9" text-anchor="end">1500</text>
<text transform="translate(145.60,122.00) scale(1.0,1.05)" font-size="10.9" text-anchor="end">1450</text>
<text transform="translate(145.60,137.90) scale(1.0,1.05)" font-size="10.9" text-anchor="end">1400</text>
<text transform="translate(145.60,153.80) scale(1.0,1.05)" font-size="10.9" text-anchor="end">1350</text>
<text transform="translate(145.60,169.70) scale(1.0,1.05)" font-size="10.9" text-anchor="end">1300</text>
<text transform="translate(145.60,185.60) scale(1.0,1.05)" font-size="10.9" text-anchor="end">1250</text>
<text transform="translate(145.60,201.50) scale(1.0,1.05)" font-size="10.9" text-anchor="end">1200</text>
<text transform="translate(145.60,217.40) scale(1.0,1.05)" font-size="10.9" text-anchor="end">1150</text>
<text transform="translate(145.60,233.30) scale(1.0,1.05)" font-size="10.9" text-anchor="end">1100</text>
<text transform="translate(145.60,249.20) scale(1.0,1.05)" font-size="10.9" text-anchor="end">1050</text>
<text transform="translate(145.60,265.10) scale(1.0,1.05)" font-size="10.9" text-anchor="end">1000</text>
<text transform="translate(145.60,281.00) scale(1.0,1.05)" font-size="10.9" text-anchor="end">950</text>
<text transform="translate(145.60,296.90) scale(1.0,1.05)" font-size="10.9" text-anchor="end">900</text>
<text transform="translate(145.60,312.80) scale(1.0,1.05)" font-size="10.9" text-anchor="end">850</text>
<text transform="translate(145.60,328.70) scale(1.0,1.05)" font-size="10.9" text-anchor="end">800</text>
<text transform="translate(145.60,344.60) scale(1.0,1.05)" font-size="10.9" text-anchor="end">750</text>
<text transform="translate(145.60,360.50) scale(1.0,1.05)" font-size="10.9" text-anchor="end">700</text>
<text transform="translate(145.60,376.40) scale(1.0,1.05)" font-size="10.9" text-anchor="end">650</text>
<text transform="translate(145.60,392.30) scale(1.0,1.05)" font-size="10.9" text-anchor="end">600</text>
<text transform="translate(145.60,408.20) scale(1.0,1.05)" font-size="10.9" text-anchor="end">550</text>
<text transform="translate(145.60,424.10) scale(1.0,1.05)" font-size="10.9" text-anchor="end">500</text>
<text transform="translate(145.60,440.00) scale(1.0,1.05)" font-size="10.9" text-anchor="end">450</text>
<text transform="translate(145.60,455.90) scale(1.0,1.05)" font-size="10.9" text-anchor="end">400</text>
<text transform="translate(145.60,471.80) scale(1.0,1.05)" font-size="10.9" text-anchor="end">350</text>
<text transform="translate(145.60,487.70) scale(1.0,1.05)" font-size="10.9" text-anchor="end">300</text>
<text transform="translate(145.60,503.60) scale(1.0,1.05)" font-size="10.9" text-anchor="end">250</text>
<text transform="translate(145.60,519.50) scale(1.0,1.05)" font-size="10.9" text-anchor="end">200</text>
<text transform="translate(145.60,535.40) scale(1.0,1.05)" font-size="10.9" text-anchor="end">150</text>
<text transform="translate(145.60,551.30) scale(1.0,1.05)" font-size="10.9" text-anchor="end">100</text>
<text transform="translate(145.60,567.20) scale(1.0,1.05)" font-size="10.9" text-anchor="end">50</text>
<text transform="translate(170.50,576.90) rotate(-45) scale(1.0,1.06)" font-size="11.3" text-anchor="end">16_00</text>
<text transform="translate(210.33,576.90) rotate(-45) scale(1.0,1.06)" font-size="11.3" text-anchor="end">16_12</text>
<text transform="translate(250.17,576.90) rotate(-45) scale(1.0,1.06)" font-size="11.3" text-anchor="end">17_00</text>
<text transform="translate(290.00,576.90) rotate(-45) scale(1.0,1.06)" font-size="11.3" text-anchor="end">17_12</text>
<text transform="translate(329.83,576.90) rotate(-45) scale(1.0,1.06)" font-size="11.3" text-anchor="end">18_00</text>
<text transform="translate(369.67,576.90) rotate(-45) scale(1.0,1.06)" font-size="11.3" text-anchor="end">18_12</text>
<text transform="translate(409.50,576.90) rotate(-45) scale(1.0,1.06)" font-size="11.3" text-anchor="end">19_00</text>
<text transform="translate(449.33,576.90) rotate(-45) scale(1.0,1.06)" font-size="11.3" text-anchor="end">19_12</text>
<text transform="translate(489.17,576.90) rotate(-45) scale(1.0,1.06)" font-size="11.3" text-anchor="end">20_00</text>
<text transform="translate(529.00,576.90) rotate(-45) scale(1.0,1.06)" font-size="11.3" text-anchor="end">20_12</text>
<text transform="translate(568.83,576.90) rotate(-45) scale(1.0,1.06)" font-size="11.3" text-anchor="end">21_00</text>
<text transform="translate(608.67,576.90) rotate(-45) scale(1.0,1.06)" font-size="11.3" text-anchor="end">21_12</text>
<text transform="translate(648.50,576.90) rotate(-45) scale(1.0,1.06)" font-size="11.3" text-anchor="end">22_00</text>
<text transform="translate(688.33,576.90) rotate(-45) scale(1.0,1.06)" font-size="11.3" text-anchor="end">22_12</text>
<text transform="translate(728.17,576.90) rotate(-45) scale(1.0,1.06)" font-size="11.3" text-anchor="end">23_00</text>
<text transform="translate(768.00,576.90) rotate(-45) scale(1.0,1.06)" font-size="11.3" text-anchor="end">23_12</text>
<text transform="translate(807.83,576.90) rotate(-45) scale(1.0,1.06)" font-size="11.3" text-anchor="end">24_00</text>
<text transform="translate(847.67,576.90) rotate(-45) scale(1.0,1.06)" font-size="11.3" text-anchor="end">24_12</text>
<text transform="translate(887.50,576.90) rotate(-45) scale(1.0,1.06)" font-size="11.3" text-anchor="end">25_00</text>
<rect x="876" y="104.00" width="12" height="21.06" fill="#da0000"/>
<rect x="876" y="124.76" width="12" height="21.06" fill="#ff2800"/>
<rect x="876" y="145.52" width="12" height="21.06" fill="#ff5500"/>
<rect x="876" y="166.28" width="12" height="21.06" fill="#ff7800"/>
<rect x="876" y="187.04" width="12" height="21.06" fill="#ff9600"/>
<rect x="876" y="207.80" width="12" height="41.82" fill="#ffc800"/>
<rect x="876" y="249.31" width="12" height="21.06" fill="#ffda3a"/>
<rect x="876" y="270.07" width="12" height="21.06" fill="#fef062"/>
<rect x="876" y="290.83" width="12" height="21.06" fill="#fefdb0"/>
<rect x="876" y="311.59" width="12" height="21.06" fill="#ffffdc"/>
<rect x="876" y="332.35" width="12" height="21.06" fill="#f0f7ff"/>
<rect x="876" y="353.11" width="12" height="21.06" fill="#d9efff"/>
<rect x="876" y="373.87" width="12" height="21.06" fill="#b4e4fa"/>
<rect x="876" y="394.63" width="12" height="21.06" fill="#78cdfa"/>
<rect x="876" y="415.39" width="12" height="41.82" fill="#3caaff"/>
<rect x="876" y="456.90" width="12" height="21.06" fill="#0078ff"/>
<rect x="876" y="477.66" width="12" height="21.06" fill="#0032ff"/>
<rect x="876" y="498.42" width="12" height="21.06" fill="#0000dc"/>
<rect x="876" y="519.18" width="12" height="21.06" fill="#6400b4"/>
<rect x="876" y="539.94" width="12" height="20.76" fill="#500096"/>
<text transform="translate(891.30,131.46) scale(1.0,1.05)" font-size="15.4">40</text>
<text transform="translate(891.30,152.22) scale(1.0,1.05)" font-size="15.4">36</text>
<text transform="translate(891.30,172.98) scale(1.0,1.05)" font-size="15.4">32</text>
<text transform="translate(891.30,193.74) scale(1.0,1.05)" font-size="15.4">28</text>
<text transform="translate(891.30,214.50) scale(1.0,1.05)" font-size="15.4">24</text>
<text transform="translate(891.30,235.25) scale(1.0,1.05)" font-size="15.4">20</text>
<text transform="translate(891.30,256.01) scale(1.0,1.05)" font-size="15.4">16</text>
<text transform="translate(891.30,276.77) scale(1.0,1.05)" font-size="15.4">12</text>
<text transform="translate(891.30,297.53) scale(1.0,1.05)" font-size="15.4">8</text>
<text transform="translate(891.30,318.29) scale(1.0,1.05)" font-size="15.4">4</text>
<text transform="translate(891.30,339.05) scale(1.0,1.05)" font-size="15.4">0</text>
<text transform="translate(891.30,359.81) scale(1.0,1.05)" font-size="15.4">-4</text>
<text transform="translate(891.30,380.57) scale(1.0,1.05)" font-size="15.4">-8</text>
<text transform="translate(891.30,401.33) scale(1.0,1.05)" font-size="15.4">-12</text>
<text transform="translate(891.30,422.09) scale(1.0,1.05)" font-size="15.4">-16</text>
<text transform="translate(891.30,442.85) scale(1.0,1.05)" font-size="15.4">-20</text>
<text transform="translate(891.30,463.60) scale(1.0,1.05)" font-size="15.4">-24</text>
<text transform="translate(891.30,484.36) scale(1.0,1.05)" font-size="15.4">-28</text>
<text transform="translate(891.30,505.12) scale(1.0,1.05)" font-size="15.4">-32</text>
<text transform="translate(891.30,525.88) scale(1.0,1.05)" font-size="15.4">-36</text>
<text transform="translate(891.30,546.64) scale(1.0,1.05)" font-size="15.4">-40</text>
<line x1="153.5" y1="753.53" x2="870.5" y2="753.53" stroke="#520f88" stroke-width="0.85" stroke-dasharray="4.2,5.4" stroke-opacity="0.62"/>
<line x1="153.5" y1="738.86" x2="870.5" y2="738.86" stroke="#520f88" stroke-width="0.85" stroke-dasharray="4.2,5.4" stroke-opacity="0.62"/>
<line x1="153.5" y1="724.19" x2="870.5" y2="724.19" stroke="#520f88" stroke-width="0.85" stroke-dasharray="4.2,5.4" stroke-opacity="0.62"/>
<line x1="153.5" y1="709.51" x2="870.5" y2="709.51" stroke="#520f88" stroke-width="0.85" stroke-dasharray="4.2,5.4" stroke-opacity="0.62"/>
<line x1="153.5" y1="694.84" x2="870.5" y2="694.84" stroke="#520f88" stroke-width="0.85" stroke-dasharray="4.2,5.4" stroke-opacity="0.62"/>
<line x1="153.5" y1="680.17" x2="870.5" y2="680.17" stroke="#520f88" stroke-width="0.85" stroke-dasharray="4.2,5.4" stroke-opacity="0.62"/>
<line x1="193.33" y1="665.5" x2="193.33" y2="768.2" stroke="#520f88" stroke-width="0.85" stroke-dasharray="3.6,6" stroke-opacity="0.62"/>
<line x1="233.17" y1="665.5" x2="233.17" y2="768.2" stroke="#520f88" stroke-width="0.85" stroke-dasharray="3.6,6" stroke-opacity="0.62"/>
<line x1="273.00" y1="665.5" x2="273.00" y2="768.2" stroke="#520f88" stroke-width="0.85" stroke-dasharray="3.6,6" stroke-opacity="0.62"/>
<line x1="312.83" y1="665.5" x2="312.83" y2="768.2" stroke="#520f88" stroke-width="0.85" stroke-dasharray="3.6,6" stroke-opacity="0.62"/>
<line x1="352.67" y1="665.5" x2="352.67" y2="768.2" stroke="#520f88" stroke-width="0.85" stroke-dasharray="3.6,6" stroke-opacity="0.62"/>
<line x1="392.50" y1="665.5" x2="392.50" y2="768.2" stroke="#520f88" stroke-width="0.85" stroke-dasharray="3.6,6" stroke-opacity="0.62"/>
<line x1="432.33" y1="665.5" x2="432.33" y2="768.2" stroke="#520f88" stroke-width="0.85" stroke-dasharray="3.6,6" stroke-opacity="0.62"/>
<line x1="472.17" y1="665.5" x2="472.17" y2="768.2" stroke="#520f88" stroke-width="0.85" stroke-dasharray="3.6,6" stroke-opacity="0.62"/>
<line x1="512.00" y1="665.5" x2="512.00" y2="768.2" stroke="#520f88" stroke-width="0.85" stroke-dasharray="3.6,6" stroke-opacity="0.62"/>
<line x1="551.83" y1="665.5" x2="551.83" y2="768.2" stroke="#520f88" stroke-width="0.85" stroke-dasharray="3.6,6" stroke-opacity="0.62"/>
<line x1="591.67" y1="665.5" x2="591.67" y2="768.2" stroke="#520f88" stroke-width="0.85" stroke-dasharray="3.6,6" stroke-opacity="0.62"/>
<line x1="631.50" y1="665.5" x2="631.50" y2="768.2" stroke="#520f88" stroke-width="0.85" stroke-dasharray="3.6,6" stroke-opacity="0.62"/>
<line x1="671.33" y1="665.5" x2="671.33" y2="768.2" stroke="#520f88" stroke-width="0.85" stroke-dasharray="3.6,6" stroke-opacity="0.62"/>
<line x1="711.17" y1="665.5" x2="711.17" y2="768.2" stroke="#520f88" stroke-width="0.85" stroke-dasharray="3.6,6" stroke-opacity="0.62"/>
<line x1="751.00" y1="665.5" x2="751.00" y2="768.2" stroke="#520f88" stroke-width="0.85" stroke-dasharray="3.6,6" stroke-opacity="0.62"/>
<line x1="790.83" y1="665.5" x2="790.83" y2="768.2" stroke="#520f88" stroke-width="0.85" stroke-dasharray="3.6,6" stroke-opacity="0.62"/>
<line x1="830.67" y1="665.5" x2="830.67" y2="768.2" stroke="#520f88" stroke-width="0.85" stroke-dasharray="3.6,6" stroke-opacity="0.62"/>
<line x1="139.0" y1="768.20" x2="870.5" y2="768.20" stroke="#520f88" stroke-width="1.2" stroke-dasharray="4.2,5.4" stroke-opacity="0.6" transform="translate(0,0.8)"/>
<polyline points="153.5,753.3 163.5,743.8 173.4,717.4 183.4,706.2 193.3,707.5 203.3,721.0 213.2,729.8 223.2,739.5 233.2,746.6 243.1,741.8 253.1,713.3 263.0,700.6 273.0,702.7 283.0,718.9 292.9,730.3 302.9,740.5 312.8,745.3 322.8,737.4 332.8,712.3 342.7,694.5 352.7,693.3 362.6,713.3 372.6,724.2 382.5,735.7 392.5,741.4 402.5,733.1 412.4,708.2 422.4,691.2 432.3,689.5 442.3,709.5 452.2,721.0 462.2,730.3 472.2,734.4 482.1,728.0 492.1,702.7 502.0,687.7 512.0,685.4 522.0,707.2 531.9,716.4 541.9,726.0 551.8,729.1 561.8,724.5 571.8,698.6 581.7,682.3 591.7,681.3 601.6,700.6 611.6,714.1 621.5,725.3 631.5,727.3 641.5,722.0 651.4,693.5 661.4,678.5 671.3,678.5 681.3,699.4 691.2,715.4 701.2,726.5 711.2,730.3 721.1,728.0 731.1,703.2 741.0,687.7 751.0,682.3 761.0,706.7 770.9,717.9 780.9,726.8 790.8,730.3 800.8,728.0 810.8,704.7 820.7,690.7 830.7,692.0 840.6,711.3 850.6,726.0 860.5,735.2 870.5,743.8" fill="none" stroke="#ff1a1a" stroke-width="1.2"/>
<rect x="153.5" y="665.5" width="717.0" height="102.70000000000005" fill="none" stroke="#520f88" stroke-width="1.2"/>
<line x1="153.50" y1="768.2" x2="153.50" y2="781.7" stroke="#520f88" stroke-width="1.2"/>
<line x1="193.33" y1="768.2" x2="193.33" y2="781.7" stroke="#520f88" stroke-width="1.2"/>
<line x1="233.17" y1="768.2" x2="233.17" y2="781.7" stroke="#520f88" stroke-width="1.2"/>
<line x1="273.00" y1="768.2" x2="273.00" y2="781.7" stroke="#520f88" stroke-width="1.2"/>
<line x1="312.83" y1="768.2" x2="312.83" y2="781.7" stroke="#520f88" stroke-width="1.2"/>
<line x1="352.67" y1="768.2" x2="352.67" y2="781.7" stroke="#520f88" stroke-width="1.2"/>
<line x1="392.50" y1="768.2" x2="392.50" y2="781.7" stroke="#520f88" stroke-width="1.2"/>
<line x1="432.33" y1="768.2" x2="432.33" y2="781.7" stroke="#520f88" stroke-width="1.2"/>
<line x1="472.17" y1="768.2" x2="472.17" y2="781.7" stroke="#520f88" stroke-width="1.2"/>
<line x1="512.00" y1="768.2" x2="512.00" y2="781.7" stroke="#520f88" stroke-width="1.2"/>
<line x1="551.83" y1="768.2" x2="551.83" y2="781.7" stroke="#520f88" stroke-width="1.2"/>
<line x1="591.67" y1="768.2" x2="591.67" y2="781.7" stroke="#520f88" stroke-width="1.2"/>
<line x1="631.50" y1="768.2" x2="631.50" y2="781.7" stroke="#520f88" stroke-width="1.2"/>
<line x1="671.33" y1="768.2" x2="671.33" y2="781.7" stroke="#520f88" stroke-width="1.2"/>
<line x1="711.17" y1="768.2" x2="711.17" y2="781.7" stroke="#520f88" stroke-width="1.2"/>
<line x1="751.00" y1="768.2" x2="751.00" y2="781.7" stroke="#520f88" stroke-width="1.2"/>
<line x1="790.83" y1="768.2" x2="790.83" y2="781.7" stroke="#520f88" stroke-width="1.2"/>
<line x1="830.67" y1="768.2" x2="830.67" y2="781.7" stroke="#520f88" stroke-width="1.2"/>
<line x1="870.50" y1="768.2" x2="870.50" y2="781.7" stroke="#520f88" stroke-width="1.2"/>
<line x1="139.0" y1="768.20" x2="153.5" y2="768.20" stroke="#520f88" stroke-width="1.2"/>
<text transform="translate(134.40,771.20) scale(1.0,1.05)" font-size="8.2" text-anchor="end">-4</text>
<line x1="146.5" y1="764.53" x2="153.5" y2="764.53" stroke="#520f88" stroke-width="0.8"/>
<line x1="146.5" y1="760.86" x2="153.5" y2="760.86" stroke="#520f88" stroke-width="0.8"/>
<line x1="146.5" y1="757.20" x2="153.5" y2="757.20" stroke="#520f88" stroke-width="0.8"/>
<line x1="139.0" y1="753.53" x2="153.5" y2="753.53" stroke="#520f88" stroke-width="1.2"/>
<text transform="translate(134.40,756.53) scale(1.0,1.05)" font-size="8.2" text-anchor="end">0</text>
<line x1="146.5" y1="749.86" x2="153.5" y2="749.86" stroke="#520f88" stroke-width="0.8"/>
<line x1="146.5" y1="746.19" x2="153.5" y2="746.19" stroke="#520f88" stroke-width="0.8"/>
<line x1="146.5" y1="742.53" x2="153.5" y2="742.53" stroke="#520f88" stroke-width="0.8"/>
<line x1="139.0" y1="738.86" x2="153.5" y2="738.86" stroke="#520f88" stroke-width="1.2"/>
<text transform="translate(134.40,741.86) scale(1.0,1.05)" font-size="8.2" text-anchor="end">4</text>
<line x1="146.5" y1="735.19" x2="153.5" y2="735.19" stroke="#520f88" stroke-width="0.8"/>
<line x1="146.5" y1="731.52" x2="153.5" y2="731.52" stroke="#520f88" stroke-width="0.8"/>
<line x1="146.5" y1="727.85" x2="153.5" y2="727.85" stroke="#520f88" stroke-width="0.8"/>
<line x1="139.0" y1="724.19" x2="153.5" y2="724.19" stroke="#520f88" stroke-width="1.2"/>
<text transform="translate(134.40,727.19) scale(1.0,1.05)" font-size="8.2" text-anchor="end">8</text>
<line x1="146.5" y1="720.52" x2="153.5" y2="720.52" stroke="#520f88" stroke-width="0.8"/>
<line x1="146.5" y1="716.85" x2="153.5" y2="716.85" stroke="#520f88" stroke-width="0.8"/>
<line x1="146.5" y1="713.18" x2="153.5" y2="713.18" stroke="#520f88" stroke-width="0.8"/>
<line x1="139.0" y1="709.51" x2="153.5" y2="709.51" stroke="#520f88" stroke-width="1.2"/>
<text transform="translate(134.40,712.51) scale(1.0,1.05)" font-size="8.2" text-anchor="end">12</text>
<line x1="146.5" y1="705.85" x2="153.5" y2="705.85" stroke="#520f88" stroke-width="0.8"/>
<line x1="146.5" y1="702.18" x2="153.5" y2="702.18" stroke="#520f88" stroke-width="0.8"/>
<line x1="146.5" y1="698.51" x2="153.5" y2="698.51" stroke="#520f88" stroke-width="0.8"/>
<line x1="139.0" y1="694.84" x2="153.5" y2="694.84" stroke="#520f88" stroke-width="1.2"/>
<text transform="translate(134.40,697.84) scale(1.0,1.05)" font-size="8.2" text-anchor="end">16</text>
<line x1="146.5" y1="691.18" x2="153.5" y2="691.18" stroke="#520f88" stroke-width="0.8"/>
<line x1="146.5" y1="687.51" x2="153.5" y2="687.51" stroke="#520f88" stroke-width="0.8"/>
<line x1="146.5" y1="683.84" x2="153.5" y2="683.84" stroke="#520f88" stroke-width="0.8"/>
<line x1="139.0" y1="680.17" x2="153.5" y2="680.17" stroke="#520f88" stroke-width="1.2"/>
<text transform="translate(134.40,683.17) scale(1.0,1.05)" font-size="8.2" text-anchor="end">20</text>
<line x1="146.5" y1="676.50" x2="153.5" y2="676.50" stroke="#520f88" stroke-width="0.8"/>
<line x1="146.5" y1="672.84" x2="153.5" y2="672.84" stroke="#520f88" stroke-width="0.8"/>
<line x1="146.5" y1="669.17" x2="153.5" y2="669.17" stroke="#520f88" stroke-width="0.8"/>
<line x1="139.0" y1="665.50" x2="153.5" y2="665.50" stroke="#520f88" stroke-width="1.2"/>
<text transform="translate(134.40,668.50) scale(1.0,1.05)" font-size="8.2" text-anchor="end">24</text>
<text transform="translate(111.40,715.80) rotate(-90)" font-size="16.9" text-anchor="middle">XGBoost T2 (deg C)</text>
<text transform="translate(170.50,784.70) rotate(-45) scale(1.0,1.06)" font-size="11.3" text-anchor="end">16_00</text>
<text transform="translate(210.33,784.70) rotate(-45) scale(1.0,1.06)" font-size="11.3" text-anchor="end">16_12</text>
<text transform="translate(250.17,784.70) rotate(-45) scale(1.0,1.06)" font-size="11.3" text-anchor="end">17_00</text>
<text transform="translate(290.00,784.70) rotate(-45) scale(1.0,1.06)" font-size="11.3" text-anchor="end">17_12</text>
<text transform="translate(329.83,784.70) rotate(-45) scale(1.0,1.06)" font-size="11.3" text-anchor="end">18_00</text>
<text transform="translate(369.67,784.70) rotate(-45) scale(1.0,1.06)" font-size="11.3" text-anchor="end">18_12</text>
<text transform="translate(409.50,784.70) rotate(-45) scale(1.0,1.06)" font-size="11.3" text-anchor="end">19_00</text>
<text transform="translate(449.33,784.70) rotate(-45) scale(1.0,1.06)" font-size="11.3" text-anchor="end">19_12</text>
<text transform="translate(489.17,784.70) rotate(-45) scale(1.0,1.06)" font-size="11.3" text-anchor="end">20_00</text>
<text transform="translate(529.00,784.70) rotate(-45) scale(1.0,1.06)" font-size="11.3" text-anchor="end">20_12</text>
<text transform="translate(568.83,784.70) rotate(-45) scale(1.0,1.06)" font-size="11.3" text-anchor="end">21_00</text>
<text transform="translate(608.67,784.70) rotate(-45) scale(1.0,1.06)" font-size="11.3" text-anchor="end">21_12</text>
<text transform="translate(648.50,784.70) rotate(-45) scale(1.0,1.06)" font-size="11.3" text-anchor="end">22_00</text>
<text transform="translate(688.33,784.70) rotate(-45) scale(1.0,1.06)" font-size="11.3" text-anchor="end">22_12</text>
<text transform="translate(728.17,784.70) rotate(-45) scale(1.0,1.06)" font-size="11.3" text-anchor="end">23_00</text>
<text transform="translate(768.00,784.70) rotate(-45) scale(1.0,1.06)" font-size="11.3" text-anchor="end">23_12</text>
<text transform="translate(807.83,784.70) rotate(-45) scale(1.0,1.06)" font-size="11.3" text-anchor="end">24_00</text>
<text transform="translate(847.67,784.70) rotate(-45) scale(1.0,1.06)" font-size="11.3" text-anchor="end">24_12</text>
<text transform="translate(887.50,784.70) rotate(-45) scale(1.0,1.06)" font-size="11.3" text-anchor="end">25_00</text>
<line x1="153.5" y1="925.72" x2="870.5" y2="925.72" stroke="#520f88" stroke-width="0.85" stroke-dasharray="4.2,5.4" stroke-opacity="0.62"/>
<line x1="153.5" y1="899.04" x2="870.5" y2="899.04" stroke="#520f88" stroke-width="0.85" stroke-dasharray="4.2,5.4" stroke-opacity="0.62"/>
<line x1="153.5" y1="872.36" x2="870.5" y2="872.36" stroke="#520f88" stroke-width="0.85" stroke-dasharray="4.2,5.4" stroke-opacity="0.62"/>
<line x1="153.5" y1="845.68" x2="870.5" y2="845.68" stroke="#520f88" stroke-width="0.85" stroke-dasharray="4.2,5.4" stroke-opacity="0.62"/>
<line x1="193.33" y1="819" x2="193.33" y2="952.4" stroke="#520f88" stroke-width="0.85" stroke-dasharray="3.6,6" stroke-opacity="0.62"/>
<line x1="233.17" y1="819" x2="233.17" y2="952.4" stroke="#520f88" stroke-width="0.85" stroke-dasharray="3.6,6" stroke-opacity="0.62"/>
<line x1="273.00" y1="819" x2="273.00" y2="952.4" stroke="#520f88" stroke-width="0.85" stroke-dasharray="3.6,6" stroke-opacity="0.62"/>
<line x1="312.83" y1="819" x2="312.83" y2="952.4" stroke="#520f88" stroke-width="0.85" stroke-dasharray="3.6,6" stroke-opacity="0.62"/>
<line x1="352.67" y1="819" x2="352.67" y2="952.4" stroke="#520f88" stroke-width="0.85" stroke-dasharray="3.6,6" stroke-opacity="0.62"/>
<line x1="392.50" y1="819" x2="392.50" y2="952.4" stroke="#520f88" stroke-width="0.85" stroke-dasharray="3.6,6" stroke-opacity="0.62"/>
<line x1="432.33" y1="819" x2="432.33" y2="952.4" stroke="#520f88" stroke-width="0.85" stroke-dasharray="3.6,6" stroke-opacity="0.62"/>
<line x1="472.17" y1="819" x2="472.17" y2="952.4" stroke="#520f88" stroke-width="0.85" stroke-dasharray="3.6,6" stroke-opacity="0.62"/>
<line x1="512.00" y1="819" x2="512.00" y2="952.4" stroke="#520f88" stroke-width="0.85" stroke-dasharray="3.6,6" stroke-opacity="0.62"/>
<line x1="551.83" y1="819" x2="551.83" y2="952.4" stroke="#520f88" stroke-width="0.85" stroke-dasharray="3.6,6" stroke-opacity="0.62"/>
<line x1="591.67" y1="819" x2="591.67" y2="952.4" stroke="#520f88" stroke-width="0.85" stroke-dasharray="3.6,6" stroke-opacity="0.62"/>
<line x1="631.50" y1="819" x2="631.50" y2="952.4" stroke="#520f88" stroke-width="0.85" stroke-dasharray="3.6,6" stroke-opacity="0.62"/>
<line x1="671.33" y1="819" x2="671.33" y2="952.4" stroke="#520f88" stroke-width="0.85" stroke-dasharray="3.6,6" stroke-opacity="0.62"/>
<line x1="711.17" y1="819" x2="711.17" y2="952.4" stroke="#520f88" stroke-width="0.85" stroke-dasharray="3.6,6" stroke-opacity="0.62"/>
<line x1="751.00" y1="819" x2="751.00" y2="952.4" stroke="#520f88" stroke-width="0.85" stroke-dasharray="3.6,6" stroke-opacity="0.62"/>
<line x1="790.83" y1="819" x2="790.83" y2="952.4" stroke="#520f88" stroke-width="0.85" stroke-dasharray="3.6,6" stroke-opacity="0.62"/>
<line x1="830.67" y1="819" x2="830.67" y2="952.4" stroke="#520f88" stroke-width="0.85" stroke-dasharray="3.6,6" stroke-opacity="0.62"/>
<rect x="153.5" y="819" width="717.0" height="133.39999999999998" fill="none" stroke="#520f88" stroke-width="1.2"/>
<line x1="153.50" y1="952.4" x2="153.50" y2="966.4" stroke="#520f88" stroke-width="1.2"/>
<line x1="193.33" y1="952.4" x2="193.33" y2="966.4" stroke="#520f88" stroke-width="1.2"/>
<line x1="233.17" y1="952.4" x2="233.17" y2="966.4" stroke="#520f88" stroke-width="1.2"/>
<line x1="273.00" y1="952.4" x2="273.00" y2="966.4" stroke="#520f88" stroke-width="1.2"/>
<line x1="312.83" y1="952.4" x2="312.83" y2="966.4" stroke="#520f88" stroke-width="1.2"/>
<line x1="352.67" y1="952.4" x2="352.67" y2="966.4" stroke="#520f88" stroke-width="1.2"/>
<line x1="392.50" y1="952.4" x2="392.50" y2="966.4" stroke="#520f88" stroke-width="1.2"/>
<line x1="432.33" y1="952.4" x2="432.33" y2="966.4" stroke="#520f88" stroke-width="1.2"/>
<line x1="472.17" y1="952.4" x2="472.17" y2="966.4" stroke="#520f88" stroke-width="1.2"/>
<line x1="512.00" y1="952.4" x2="512.00" y2="966.4" stroke="#520f88" stroke-width="1.2"/>
<line x1="551.83" y1="952.4" x2="551.83" y2="966.4" stroke="#520f88" stroke-width="1.2"/>
<line x1="591.67" y1="952.4" x2="591.67" y2="966.4" stroke="#520f88" stroke-width="1.2"/>
<line x1="631.50" y1="952.4" x2="631.50" y2="966.4" stroke="#520f88" stroke-width="1.2"/>
<line x1="671.33" y1="952.4" x2="671.33" y2="966.4" stroke="#520f88" stroke-width="1.2"/>
<line x1="711.17" y1="952.4" x2="711.17" y2="966.4" stroke="#520f88" stroke-width="1.2"/>
<line x1="751.00" y1="952.4" x2="751.00" y2="966.4" stroke="#520f88" stroke-width="1.2"/>
<line x1="790.83" y1="952.4" x2="790.83" y2="966.4" stroke="#520f88" stroke-width="1.2"/>
<line x1="830.67" y1="952.4" x2="830.67" y2="966.4" stroke="#520f88" stroke-width="1.2"/>
<line x1="870.50" y1="952.4" x2="870.50" y2="966.4" stroke="#520f88" stroke-width="1.2"/>
<line x1="139.0" y1="952.40" x2="153.5" y2="952.40" stroke="#520f88" stroke-width="1.2"/>
<text transform="translate(134.40,955.40) scale(1.0,1.05)" font-size="8.2" text-anchor="end">0.0</text>
<line x1="146.5" y1="947.06" x2="153.5" y2="947.06" stroke="#520f88" stroke-width="0.8"/>
<line x1="146.5" y1="941.73" x2="153.5" y2="941.73" stroke="#520f88" stroke-width="0.8"/>
<line x1="146.5" y1="936.39" x2="153.5" y2="936.39" stroke="#520f88" stroke-width="0.8"/>
<line x1="146.5" y1="931.06" x2="153.5" y2="931.06" stroke="#520f88" stroke-width="0.8"/>
<line x1="139.0" y1="925.72" x2="153.5" y2="925.72" stroke="#520f88" stroke-width="1.2"/>
<text transform="translate(134.40,928.72) scale(1.0,1.05)" font-size="8.2" text-anchor="end">0.2</text>
<line x1="146.5" y1="920.38" x2="153.5" y2="920.38" stroke="#520f88" stroke-width="0.8"/>
<line x1="146.5" y1="915.05" x2="153.5" y2="915.05" stroke="#520f88" stroke-width="0.8"/>
<line x1="146.5" y1="909.71" x2="153.5" y2="909.71" stroke="#520f88" stroke-width="0.8"/>
<line x1="146.5" y1="904.38" x2="153.5" y2="904.38" stroke="#520f88" stroke-width="0.8"/>
<line x1="139.0" y1="899.04" x2="153.5" y2="899.04" stroke="#520f88" stroke-width="1.2"/>
<text transform="translate(134.40,902.04) scale(1.0,1.05)" font-size="8.2" text-anchor="end">0.4</text>
<line x1="146.5" y1="893.70" x2="153.5" y2="893.70" stroke="#520f88" stroke-width="0.8"/>
<line x1="146.5" y1="888.37" x2="153.5" y2="888.37" stroke="#520f88" stroke-width="0.8"/>
<line x1="146.5" y1="883.03" x2="153.5" y2="883.03" stroke="#520f88" stroke-width="0.8"/>
<line x1="146.5" y1="877.70" x2="153.5" y2="877.70" stroke="#520f88" stroke-width="0.8"/>
<line x1="139.0" y1="872.36" x2="153.5" y2="872.36" stroke="#520f88" stroke-width="1.2"/>
<text transform="translate(134.40,875.36) scale(1.0,1.05)" font-size="8.2" text-anchor="end">0.6</text>
<line x1="146.5" y1="867.02" x2="153.5" y2="867.02" stroke="#520f88" stroke-width="0.8"/>
<line x1="146.5" y1="861.69" x2="153.5" y2="861.69" stroke="#520f88" stroke-width="0.8"/>
<line x1="146.5" y1="856.35" x2="153.5" y2="856.35" stroke="#520f88" stroke-width="0.8"/>
<line x1="146.5" y1="851.02" x2="153.5" y2="851.02" stroke="#520f88" stroke-width="0.8"/>
<line x1="139.0" y1="845.68" x2="153.5" y2="845.68" stroke="#520f88" stroke-width="1.2"/>
<text transform="translate(134.40,848.68) scale(1.0,1.05)" font-size="8.2" text-anchor="end">0.8</text>
<line x1="146.5" y1="840.34" x2="153.5" y2="840.34" stroke="#520f88" stroke-width="0.8"/>
<line x1="146.5" y1="835.01" x2="153.5" y2="835.01" stroke="#520f88" stroke-width="0.8"/>
<line x1="146.5" y1="829.67" x2="153.5" y2="829.67" stroke="#520f88" stroke-width="0.8"/>
<line x1="146.5" y1="824.34" x2="153.5" y2="824.34" stroke="#520f88" stroke-width="0.8"/>
<line x1="139.0" y1="819.00" x2="153.5" y2="819.00" stroke="#520f88" stroke-width="1.2"/>
<text transform="translate(134.40,822.00) scale(1.0,1.05)" font-size="8.2" text-anchor="end">1.0</text>
<text transform="translate(107.80,886.20) rotate(-90)" font-size="17.2" text-anchor="middle">PRECIP, mm</text>
<text transform="translate(170.50,969.70) rotate(-45) scale(1.0,1.06)" font-size="11.3" text-anchor="end">16_00</text>
<text transform="translate(210.33,969.70) rotate(-45) scale(1.0,1.06)" font-size="11.3" text-anchor="end">16_12</text>
<text transform="translate(250.17,969.70) rotate(-45) scale(1.0,1.06)" font-size="11.3" text-anchor="end">17_00</text>
<text transform="translate(290.00,969.70) rotate(-45) scale(1.0,1.06)" font-size="11.3" text-anchor="end">17_12</text>
<text transform="translate(329.83,969.70) rotate(-45) scale(1.0,1.06)" font-size="11.3" text-anchor="end">18_00</text>
<text transform="translate(369.67,969.70) rotate(-45) scale(1.0,1.06)" font-size="11.3" text-anchor="end">18_12</text>
<text transform="translate(409.50,969.70) rotate(-45) scale(1.0,1.06)" font-size="11.3" text-anchor="end">19_00</text>
<text transform="translate(449.33,969.70) rotate(-45) scale(1.0,1.06)" font-size="11.3" text-anchor="end">19_12</text>
<text transform="translate(489.17,969.70) rotate(-45) scale(1.0,1.06)" font-size="11.3" text-anchor="end">20_00</text>
<text transform="translate(529.00,969.70) rotate(-45) scale(1.0,1.06)" font-size="11.3" text-anchor="end">20_12</text>
<text transform="translate(568.83,969.70) rotate(-45) scale(1.0,1.06)" font-size="11.3" text-anchor="end">21_00</text>
<text transform="translate(608.67,969.70) rotate(-45) scale(1.0,1.06)" font-size="11.3" text-anchor="end">21_12</text>
<text transform="translate(648.50,969.70) rotate(-45) scale(1.0,1.06)" font-size="11.3" text-anchor="end">22_00</text>
<text transform="translate(688.33,969.70) rotate(-45) scale(1.0,1.06)" font-size="11.3" text-anchor="end">22_12</text>
<text transform="translate(728.17,969.70) rotate(-45) scale(1.0,1.06)" font-size="11.3" text-anchor="end">23_00</text>
<text transform="translate(768.00,969.70) rotate(-45) scale(1.0,1.06)" font-size="11.3" text-anchor="end">23_12</text>
<text transform="translate(807.83,969.70) rotate(-45) scale(1.0,1.06)" font-size="11.3" text-anchor="end">24_00</text>
<text transform="translate(847.67,969.70) rotate(-45) scale(1.0,1.06)" font-size="11.3" text-anchor="end">24_12</text>
<text transform="translate(887.50,969.70) rotate(-45) scale(1.0,1.06)" font-size="11.3" text-anchor="end">25_00</text>
</svg></body></html>
